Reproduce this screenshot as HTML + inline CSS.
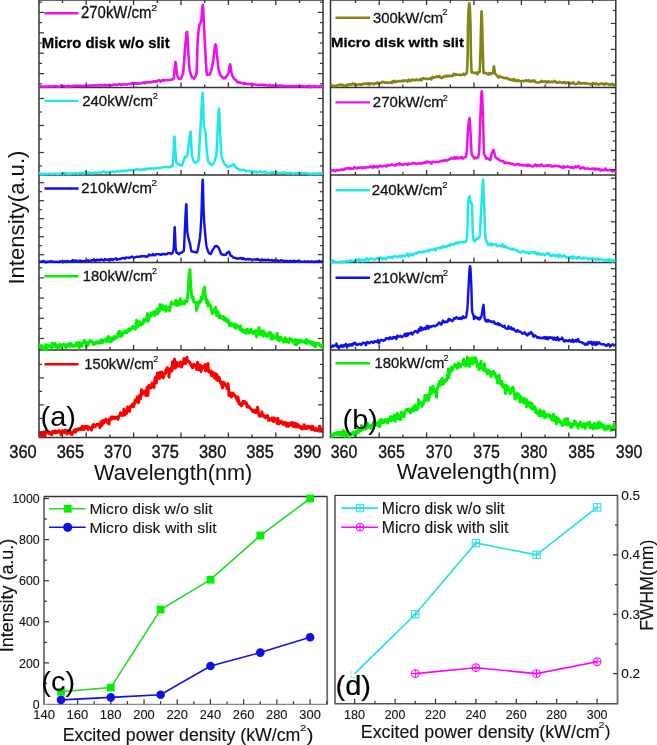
<!DOCTYPE html><html><head><meta charset="utf-8"><style>html,body{margin:0;padding:0;background:#fff;width:657px;height:745px;overflow:hidden;position:relative}</style></head><body><svg width="657" height="745" viewBox="0 0 657 745" style="position:absolute;left:0;top:0;will-change:transform;filter:blur(0.35px)" font-family='"Liberation Sans", sans-serif'>
<rect width="657" height="745" fill="#fff"/>
<defs>
<clipPath id="ca0"><rect x="39.0" y="0.0" width="284.0" height="88.6"/></clipPath>
<clipPath id="cb0"><rect x="330.5" y="0.0" width="285.3" height="88.6"/></clipPath>
<clipPath id="ca1"><rect x="39.0" y="87.5" width="284.0" height="88.6"/></clipPath>
<clipPath id="cb1"><rect x="330.5" y="87.5" width="285.3" height="88.6"/></clipPath>
<clipPath id="ca2"><rect x="39.0" y="175.0" width="284.0" height="88.6"/></clipPath>
<clipPath id="cb2"><rect x="330.5" y="175.0" width="285.3" height="88.6"/></clipPath>
<clipPath id="ca3"><rect x="39.0" y="262.5" width="284.0" height="88.6"/></clipPath>
<clipPath id="cb3"><rect x="330.5" y="262.5" width="285.3" height="88.6"/></clipPath>
<clipPath id="ca4"><rect x="39.0" y="350.0" width="284.0" height="88.6"/></clipPath>
<clipPath id="cb4"><rect x="330.5" y="350.0" width="285.3" height="88.6"/></clipPath>
</defs>
<line x1="39.00" y1="0.00" x2="39.00" y2="437.50" stroke="#333" stroke-width="1.5"/>
<line x1="323.00" y1="0.00" x2="323.00" y2="437.50" stroke="#333" stroke-width="1.5"/>
<line x1="39.00" y1="0.00" x2="323.00" y2="0.00" stroke="#333" stroke-width="1.5"/>
<line x1="39.00" y1="87.50" x2="323.00" y2="87.50" stroke="#333" stroke-width="1.5"/>
<line x1="39.00" y1="175.00" x2="323.00" y2="175.00" stroke="#333" stroke-width="1.5"/>
<line x1="39.00" y1="262.50" x2="323.00" y2="262.50" stroke="#333" stroke-width="1.5"/>
<line x1="39.00" y1="350.00" x2="323.00" y2="350.00" stroke="#333" stroke-width="1.5"/>
<line x1="39.00" y1="437.50" x2="323.00" y2="437.50" stroke="#333" stroke-width="1.5"/>
<line x1="330.50" y1="0.00" x2="330.50" y2="437.50" stroke="#333" stroke-width="1.5"/>
<line x1="615.80" y1="0.00" x2="615.80" y2="437.50" stroke="#333" stroke-width="1.5"/>
<line x1="330.50" y1="0.00" x2="615.80" y2="0.00" stroke="#333" stroke-width="1.5"/>
<line x1="330.50" y1="87.50" x2="615.80" y2="87.50" stroke="#333" stroke-width="1.5"/>
<line x1="330.50" y1="175.00" x2="615.80" y2="175.00" stroke="#333" stroke-width="1.5"/>
<line x1="330.50" y1="262.50" x2="615.80" y2="262.50" stroke="#333" stroke-width="1.5"/>
<line x1="330.50" y1="350.00" x2="615.80" y2="350.00" stroke="#333" stroke-width="1.5"/>
<line x1="330.50" y1="437.50" x2="615.80" y2="437.50" stroke="#333" stroke-width="1.5"/>
<polyline points="39.0,86.7 39.5,86.4 40.0,86.1 40.5,86.5 41.0,86.9 41.5,86.8 42.0,86.7 42.5,86.6 43.0,86.4 43.5,86.6 44.0,86.8 44.5,86.7 45.0,86.7 45.5,86.7 46.0,86.7 46.5,86.6 47.0,86.6 47.5,86.6 48.0,86.7 48.5,86.5 49.0,86.3 49.5,86.4 50.0,86.5 50.5,86.4 51.0,86.3 51.5,86.5 52.0,86.7 52.5,86.6 53.0,86.5 53.5,86.4 54.0,86.4 54.5,86.3 55.0,86.2 55.5,86.3 56.0,86.3 56.5,86.4 57.0,86.4 57.5,86.4 58.0,86.3 58.5,86.6 59.0,86.8 59.5,86.8 60.0,86.7 60.5,86.1 61.0,85.4 61.5,85.5 62.0,85.7 62.5,86.0 63.0,86.3 63.5,86.2 64.0,86.2 64.5,86.3 65.0,86.4 65.5,86.4 66.0,86.4 66.5,86.7 67.0,87.0 67.5,86.4 68.0,85.8 68.5,86.0 69.0,86.1 69.5,86.5 70.0,86.9 70.5,86.7 71.0,86.4 71.5,86.4 72.0,86.4 72.5,86.2 73.0,86.0 73.5,85.8 74.0,85.5 74.5,85.9 75.0,86.2 75.5,86.1 76.0,86.1 76.5,85.9 77.0,85.6 77.5,85.7 78.0,85.8 78.5,85.9 79.0,86.0 79.5,85.8 80.0,85.7 80.5,85.8 81.0,85.9 81.5,86.0 82.0,86.0 82.5,86.0 83.0,85.9 83.5,85.8 84.0,85.7 84.5,85.9 85.0,86.1 85.5,86.1 86.0,86.2 86.5,86.1 87.0,85.9 87.5,85.7 88.0,85.5 88.5,85.8 89.0,86.0 89.5,85.8 90.0,85.6 90.5,85.8 91.0,86.0 91.5,85.7 92.0,85.3 92.5,85.7 93.0,86.0 93.5,85.8 94.0,85.6 94.5,85.4 95.0,85.2 95.5,85.3 96.0,85.5 96.5,85.5 97.0,85.6 97.5,85.6 98.0,85.6 98.5,85.4 99.0,85.1 99.5,85.1 100.0,85.1 100.5,85.3 101.0,85.5 101.5,85.3 102.0,85.2 102.5,85.3 103.0,85.4 103.5,85.5 104.0,85.6 104.5,85.1 105.0,84.7 105.5,85.0 106.0,85.3 106.5,85.5 107.0,85.6 107.5,85.3 108.0,85.0 108.5,84.9 109.0,84.8 109.5,85.1 110.0,85.3 110.5,85.2 111.0,85.1 111.5,85.2 112.0,85.3 112.5,85.0 113.0,84.8 113.5,84.6 114.0,84.4 114.5,84.6 115.0,84.8 115.5,84.7 116.0,84.6 116.5,84.8 117.0,85.0 117.5,84.9 118.0,84.8 118.5,84.4 119.0,84.1 119.5,84.1 120.0,84.2 120.5,84.5 121.0,84.9 121.5,84.8 122.0,84.7 122.5,84.5 123.0,84.2 123.5,84.3 124.0,84.4 124.5,84.4 125.0,84.5 125.5,84.5 126.0,84.4 126.5,84.5 127.0,84.5 127.5,84.4 128.0,84.2 128.5,84.1 129.0,84.0 129.5,84.0 130.0,83.9 130.5,84.1 131.0,84.3 131.5,83.7 132.0,83.1 132.5,83.4 133.0,83.7 133.5,83.7 134.0,83.7 134.5,83.4 135.0,83.1 135.5,83.4 136.0,83.7 136.5,83.4 137.0,83.2 137.5,83.4 138.0,83.7 138.5,83.5 139.0,83.2 139.5,83.3 140.0,83.4 140.5,83.5 141.0,83.5 141.5,83.3 142.0,83.1 142.5,82.9 143.0,82.6 143.5,82.4 144.0,82.3 144.5,82.8 145.0,83.3 145.5,82.9 146.0,82.5 146.5,82.4 147.0,82.2 147.5,82.3 148.0,82.4 148.5,82.3 149.0,82.2 149.5,82.3 150.0,82.4 150.5,82.2 151.0,82.0 151.5,81.9 152.0,81.8 152.5,81.7 153.0,81.5 153.5,81.6 154.0,81.7 154.5,81.4 155.0,81.1 155.5,81.3 156.0,81.6 156.5,81.6 157.0,81.7 157.5,81.1 158.0,80.5 158.5,80.3 159.0,80.1 159.5,80.6 160.0,81.0 160.5,81.3 161.0,81.6 161.5,80.9 162.0,80.3 162.5,80.2 163.0,80.1 163.5,80.3 164.0,80.6 164.5,80.3 165.0,80.0 165.5,80.0 166.0,80.0 166.5,80.0 167.0,80.0 167.5,80.2 168.0,80.3 168.5,80.1 169.0,79.9 169.5,80.0 170.0,80.1 170.5,80.0 171.0,79.8 171.5,79.6 172.0,79.4 172.2,79.4 172.5,79.4 173.0,79.2 173.5,78.5 173.7,78.2 174.0,76.7 174.5,71.2 175.0,65.1 175.5,62.0 176.0,64.5 176.5,69.9 177.0,74.1 177.1,74.6 177.5,75.9 178.0,77.4 178.5,78.1 179.0,78.5 179.5,78.9 180.0,79.1 180.1,79.1 180.5,79.0 181.0,78.6 181.5,77.5 182.0,76.1 182.5,74.6 183.0,72.8 183.1,72.4 183.5,69.5 184.0,63.2 184.5,55.8 184.9,50.8 185.0,49.7 185.5,43.6 186.0,37.5 186.5,33.3 187.0,31.9 187.5,37.1 188.0,47.1 188.2,50.5 188.5,55.0 189.0,62.8 189.5,69.0 189.8,71.0 190.0,71.7 190.5,73.3 191.0,74.7 191.5,76.2 192.0,77.4 192.5,77.7 193.0,77.7 193.5,78.2 194.0,78.6 194.5,78.0 195.0,76.9 195.5,76.2 196.0,75.1 196.5,73.1 196.6,72.7 197.0,62.9 197.5,44.4 197.6,42.4 198.0,36.7 198.5,31.3 199.0,27.3 199.4,25.3 199.5,24.9 200.0,23.7 200.5,22.7 201.0,21.5 201.2,20.7 201.5,18.4 202.0,11.7 202.5,6.0 202.8,4.8 203.0,6.1 203.5,15.6 203.9,24.3 204.0,26.1 204.5,35.8 205.0,45.3 205.5,54.2 206.0,63.1 206.5,71.3 207.0,74.9 207.5,74.9 208.0,74.8 208.5,74.7 209.0,74.5 209.5,74.4 209.7,74.3 210.0,74.1 210.5,72.8 211.0,70.9 211.5,69.4 212.0,67.5 212.5,64.7 213.0,61.8 213.3,60.1 213.5,58.9 214.0,54.4 214.5,49.8 215.0,46.0 215.5,44.4 216.0,46.4 216.5,50.5 217.0,55.2 217.2,56.9 217.5,59.7 218.0,64.9 218.5,69.0 218.7,69.8 219.0,70.6 219.5,72.6 220.0,74.5 220.5,75.3 221.0,75.9 221.5,76.4 222.0,76.7 222.5,77.3 223.0,77.8 223.5,78.2 224.0,78.5 224.2,78.4 224.5,78.2 225.0,77.7 225.5,77.5 226.0,77.2 226.5,76.4 227.0,75.4 227.5,74.7 228.0,73.9 228.4,72.9 228.5,72.6 229.0,70.0 229.5,66.3 230.0,64.3 230.5,66.0 231.0,69.5 231.5,72.5 232.0,74.3 232.5,75.8 233.0,77.2 233.5,77.8 234.0,78.4 234.5,79.1 235.0,79.7 235.5,79.9 236.0,80.0 236.5,80.9 237.0,81.8 237.5,82.2 238.0,82.5 238.5,82.3 239.0,82.0 239.5,82.4 240.0,82.8 240.5,82.8 241.0,82.7 241.5,82.9 242.0,83.1 242.5,83.0 243.0,82.9 243.5,83.5 244.0,84.1 244.5,83.7 245.0,83.3 245.5,83.5 246.0,83.7 246.5,83.9 247.0,84.1 247.5,83.9 248.0,83.8 248.5,83.9 249.0,84.1 249.5,84.1 250.0,84.1 250.5,84.2 251.0,84.3 251.5,84.2 252.0,84.0 252.5,84.2 253.0,84.4 253.5,84.4 254.0,84.5 254.5,84.5 255.0,84.6 255.5,84.7 256.0,84.8 256.5,84.7 257.0,84.7 257.5,84.9 258.0,85.1 258.5,85.0 259.0,84.8 259.5,84.9 260.0,85.0 260.5,84.9 261.0,84.8 261.5,84.9 262.0,84.9 262.5,84.8 263.0,84.7 263.5,85.1 264.0,85.4 264.5,85.2 265.0,84.9 265.5,85.0 266.0,85.1 266.5,85.3 267.0,85.5 267.5,85.6 268.0,85.6 268.5,85.5 269.0,85.4 269.5,85.1 270.0,84.8 270.5,85.3 271.0,85.7 271.5,85.7 272.0,85.7 272.5,85.5 273.0,85.2 273.5,85.6 274.0,86.0 274.5,85.8 275.0,85.5 275.5,85.5 276.0,85.4 276.5,85.6 277.0,85.9 277.5,85.8 278.0,85.8 278.5,85.9 279.0,86.0 279.5,85.7 280.0,85.4 280.5,86.0 281.0,86.6 281.5,86.2 282.0,85.8 282.5,85.6 283.0,85.5 283.5,85.9 284.0,86.3 284.5,86.1 285.0,86.0 285.5,86.1 286.0,86.2 286.5,86.1 287.0,86.0 287.5,86.1 288.0,86.1 288.5,86.2 289.0,86.3 289.5,86.1 290.0,85.9 290.5,86.2 291.0,86.5 291.5,86.3 292.0,86.1 292.5,86.0 293.0,86.0 293.5,86.1 294.0,86.3 294.5,86.4 295.0,86.4 295.5,86.3 296.0,86.2 296.5,86.1 297.0,86.0 297.5,86.3 298.0,86.6 298.5,86.2 299.0,85.7 299.5,85.9 300.0,86.0 300.5,86.2 301.0,86.4 301.5,86.2 302.0,85.9 302.5,86.2 303.0,86.4 303.5,86.4 304.0,86.4 304.5,86.6 305.0,86.8 305.5,86.5 306.0,86.2 306.5,86.2 307.0,86.3 307.5,86.4 308.0,86.6 308.5,86.1 309.0,85.6 309.5,86.6 310.0,87.6 310.5,86.9 311.0,86.3 311.5,86.3 312.0,86.3 312.5,86.6 313.0,86.9 313.5,86.7 314.0,86.5 314.5,86.2 315.0,85.9 315.5,86.4 316.0,86.8 316.5,86.8 317.0,86.9 317.5,86.7 318.0,86.4 318.5,86.5 319.0,86.5 319.5,86.6 320.0,86.8 320.5,86.5 321.0,86.3 321.5,86.5 322.0,86.8 322.5,86.7 323.0,86.7" fill="none" stroke="#ec10ec" stroke-width="2.6" stroke-linejoin="round" clip-path="url(#ca0)"/>
<polyline points="39.0,173.9 39.5,173.5 40.0,173.1 40.5,173.9 41.0,174.6 41.5,174.5 42.0,174.4 42.5,174.1 43.0,173.9 43.5,174.1 44.0,174.3 44.5,174.2 45.0,174.1 45.5,173.9 46.0,173.8 46.5,174.0 47.0,174.3 47.5,174.1 48.0,173.8 48.5,173.8 49.0,173.8 49.5,173.7 50.0,173.7 50.5,173.9 51.0,174.1 51.5,174.0 52.0,173.9 52.5,174.0 53.0,174.1 53.5,173.9 54.0,173.7 54.5,173.8 55.0,173.9 55.5,173.7 56.0,173.5 56.5,173.8 57.0,174.1 57.5,174.0 58.0,173.9 58.5,173.9 59.0,173.9 59.5,173.9 60.0,173.9 60.5,173.7 61.0,173.4 61.5,173.7 62.0,174.0 62.5,174.2 63.0,174.4 63.5,173.8 64.0,173.1 64.5,173.1 65.0,173.1 65.5,173.1 66.0,173.1 66.5,173.5 67.0,173.9 67.5,173.8 68.0,173.6 68.5,173.8 69.0,173.9 69.5,173.9 70.0,173.8 70.5,173.7 71.0,173.6 71.5,173.6 72.0,173.6 72.5,173.5 73.0,173.4 73.5,173.6 74.0,173.7 74.5,173.4 75.0,173.0 75.5,173.1 76.0,173.2 76.5,173.3 77.0,173.4 77.5,173.7 78.0,173.9 78.5,173.5 79.0,173.0 79.5,172.9 80.0,172.8 80.5,172.9 81.0,173.0 81.5,173.2 82.0,173.5 82.5,173.3 83.0,173.0 83.5,173.3 84.0,173.6 84.5,173.0 85.0,172.4 85.5,172.9 86.0,173.4 86.5,173.4 87.0,173.3 87.5,172.9 88.0,172.5 88.5,172.7 89.0,173.0 89.5,173.1 90.0,173.3 90.5,173.1 91.0,172.9 91.5,173.0 92.0,173.2 92.5,173.4 93.0,173.6 93.5,173.2 94.0,172.8 94.5,172.7 95.0,172.6 95.5,172.5 96.0,172.4 96.5,172.6 97.0,172.8 97.5,172.7 98.0,172.5 98.5,172.5 99.0,172.5 99.5,172.5 100.0,172.5 100.5,172.6 101.0,172.7 101.5,172.4 102.0,172.0 102.5,171.9 103.0,171.8 103.5,171.7 104.0,171.5 104.5,172.1 105.0,172.7 105.5,172.5 106.0,172.2 106.5,172.5 107.0,172.7 107.5,172.4 108.0,172.1 108.5,171.9 109.0,171.8 109.5,172.0 110.0,172.1 110.5,172.0 111.0,171.9 111.5,171.6 112.0,171.4 112.5,171.4 113.0,171.5 113.5,171.9 114.0,172.3 114.5,172.0 115.0,171.7 115.5,171.7 116.0,171.7 116.5,171.5 117.0,171.4 117.5,171.2 118.0,171.1 118.5,171.4 119.0,171.6 119.5,171.4 120.0,171.2 120.5,171.0 121.0,170.9 121.5,170.9 122.0,171.0 122.5,170.8 123.0,170.6 123.5,170.8 124.0,170.9 124.5,171.1 125.0,171.2 125.5,170.8 126.0,170.4 126.5,170.8 127.0,171.1 127.5,170.7 128.0,170.3 128.5,170.4 129.0,170.5 129.5,170.3 130.0,170.1 130.5,170.1 131.0,170.2 131.5,170.2 132.0,170.2 132.5,170.1 133.0,169.9 133.5,169.9 134.0,169.8 134.5,169.7 135.0,169.7 135.5,169.6 136.0,169.5 136.5,169.4 137.0,169.2 137.5,169.4 138.0,169.6 138.5,169.6 139.0,169.7 139.5,169.8 140.0,169.8 140.5,169.7 141.0,169.6 141.5,169.9 142.0,170.2 142.5,169.8 143.0,169.4 143.5,169.2 144.0,169.0 144.5,169.4 145.0,169.8 145.5,169.2 146.0,168.7 146.5,169.0 147.0,169.3 147.5,168.9 148.0,168.5 148.5,168.7 149.0,168.9 149.5,168.5 150.0,168.0 150.5,168.5 151.0,169.0 151.5,168.7 152.0,168.5 152.5,168.3 153.0,168.1 153.5,168.6 154.0,169.0 154.5,168.8 155.0,168.6 155.5,168.4 156.0,168.2 156.5,168.1 157.0,167.9 157.5,168.0 158.0,168.0 158.5,168.0 159.0,167.9 159.5,168.0 160.0,168.1 160.5,168.1 161.0,168.0 161.5,167.7 162.0,167.4 162.5,167.4 163.0,167.3 163.5,167.3 164.0,167.2 164.5,167.0 165.0,166.8 165.5,166.9 166.0,167.0 166.5,167.0 167.0,167.1 167.5,167.2 168.0,167.3 168.5,167.3 169.0,167.4 169.5,166.9 170.0,166.5 170.5,166.6 171.0,166.7 171.5,166.4 172.0,166.0 172.2,166.1 172.5,165.5 173.0,162.1 173.2,160.1 173.5,154.6 174.0,141.6 174.4,136.6 174.5,136.8 175.0,144.0 175.5,153.2 175.6,154.5 176.0,159.1 176.5,162.8 177.0,163.3 177.5,163.7 178.0,164.1 178.5,164.1 179.0,164.2 179.5,164.5 180.0,164.9 180.5,164.8 181.0,164.7 181.5,165.3 181.9,165.7 182.0,165.7 182.5,164.6 183.0,162.7 183.5,161.2 184.0,159.7 184.5,157.8 184.9,157.0 185.0,156.8 185.5,156.9 186.0,157.1 186.5,156.5 186.7,156.2 187.0,155.4 187.5,153.5 188.0,150.5 188.5,146.4 189.0,142.3 189.2,141.0 189.5,138.7 190.0,134.4 190.5,131.7 190.6,131.6 191.0,137.2 191.5,150.2 191.8,154.5 192.0,155.4 192.5,157.5 193.0,159.3 193.5,160.7 194.0,161.8 194.5,162.4 195.0,162.7 195.2,162.7 195.5,162.6 196.0,162.4 196.5,162.0 197.0,161.6 197.5,161.4 198.0,161.2 198.2,161.1 198.5,159.9 199.0,154.3 199.5,145.8 200.0,137.0 200.5,128.0 201.0,118.7 201.5,108.9 202.0,99.4 202.5,93.5 202.7,92.9 203.0,97.6 203.5,116.0 203.9,125.9 204.0,126.6 204.5,128.6 205.0,129.8 205.5,131.9 206.0,138.5 206.5,147.2 206.7,149.6 207.0,152.3 207.5,156.8 208.0,160.3 208.5,162.0 209.0,162.8 209.5,163.2 210.0,163.5 210.5,164.3 211.0,165.0 211.5,165.1 212.0,165.1 212.1,165.0 212.5,164.6 213.0,163.7 213.5,163.4 214.0,162.8 214.5,161.4 215.0,159.6 215.5,158.1 216.0,156.4 216.3,155.0 216.5,153.2 217.0,143.7 217.5,131.2 217.9,122.9 218.0,121.2 218.5,112.7 219.0,108.4 219.5,116.2 220.0,130.9 220.3,137.7 220.5,141.0 221.0,149.0 221.5,155.4 221.8,157.4 222.0,158.2 222.5,159.6 223.0,160.9 223.5,161.9 224.0,162.9 224.5,164.0 225.0,164.9 225.5,165.1 226.0,165.2 226.5,166.0 227.0,166.7 227.5,166.9 227.8,167.0 228.0,167.0 228.5,166.8 229.0,166.5 229.5,166.2 230.0,165.9 230.5,165.9 231.0,165.9 231.5,165.9 232.0,165.8 232.5,165.0 233.0,164.4 233.2,164.3 233.5,164.2 234.0,164.4 234.5,165.5 235.0,166.7 235.5,166.9 236.0,167.0 236.3,167.5 236.5,167.8 237.0,168.5 237.5,168.7 238.0,168.7 238.5,169.2 239.0,169.7 239.5,169.6 240.0,169.4 240.5,169.9 241.0,170.4 241.5,170.3 242.0,170.2 242.5,169.9 243.0,169.7 243.5,169.7 244.0,169.8 244.5,170.1 245.0,170.5 245.5,170.9 246.0,171.2 246.5,171.1 247.0,170.9 247.5,171.0 248.0,171.0 248.5,171.0 249.0,171.0 249.5,171.3 250.0,171.5 250.5,171.5 251.0,171.5 251.5,171.5 252.0,171.5 252.5,171.4 253.0,171.2 253.5,171.6 254.0,172.0 254.5,172.1 255.0,172.1 255.5,171.7 256.0,171.3 256.5,172.0 257.0,172.6 257.5,172.4 258.0,172.1 258.5,171.9 259.0,171.8 259.5,171.6 260.0,171.3 260.5,171.8 261.0,172.3 261.5,172.3 262.0,172.3 262.5,172.1 263.0,172.0 263.5,171.8 264.0,171.6 264.5,172.1 265.0,172.7 265.5,172.4 266.0,172.1 266.5,172.2 267.0,172.2 267.5,172.8 268.0,173.4 268.5,173.3 269.0,173.2 269.5,173.0 270.0,172.9 270.5,172.6 271.0,172.4 271.5,172.6 272.0,172.8 272.5,172.4 273.0,171.9 273.5,172.3 274.0,172.7 274.5,172.6 275.0,172.5 275.5,172.4 276.0,172.3 276.5,172.3 277.0,172.3 277.5,172.6 278.0,173.0 278.5,173.0 279.0,172.9 279.5,172.9 280.0,173.0 280.5,173.1 281.0,173.2 281.5,173.0 282.0,172.7 282.5,172.6 283.0,172.6 283.5,172.5 284.0,172.4 284.5,172.7 285.0,172.9 285.5,173.2 286.0,173.4 286.5,173.2 287.0,173.1 287.5,173.2 288.0,173.4 288.5,173.1 289.0,172.8 289.5,172.9 290.0,173.0 290.5,173.0 291.0,173.0 291.5,172.9 292.0,172.8 292.5,173.4 293.0,173.9 293.5,173.8 294.0,173.6 294.5,173.3 295.0,173.1 295.5,173.1 296.0,173.1 296.5,173.2 297.0,173.4 297.5,173.1 298.0,172.9 298.5,173.2 299.0,173.6 299.5,173.3 300.0,173.0 300.5,173.2 301.0,173.3 301.5,173.2 302.0,173.1 302.5,173.2 303.0,173.3 303.5,173.2 304.0,173.1 304.5,173.0 305.0,173.0 305.5,173.1 306.0,173.2 306.5,173.3 307.0,173.3 307.5,173.4 308.0,173.5 308.5,173.6 309.0,173.6 309.5,173.9 310.0,174.2 310.5,174.1 311.0,173.9 311.5,173.8 312.0,173.6 312.5,173.8 313.0,173.9 313.5,173.7 314.0,173.5 314.5,173.8 315.0,174.2 315.5,174.1 316.0,173.9 316.5,173.6 317.0,173.3 317.5,173.6 318.0,174.0 318.5,174.0 319.0,174.1 319.5,173.4 320.0,172.8 320.5,173.2 321.0,173.5 321.5,173.6 322.0,173.6 322.5,173.4 323.0,173.1" fill="none" stroke="#1ee8e8" stroke-width="2.5" stroke-linejoin="round" clip-path="url(#ca1)"/>
<polyline points="39.0,262.0 39.5,261.8 40.0,261.5 40.5,261.6 41.0,261.6 41.5,261.6 42.0,261.7 42.5,261.3 43.0,260.9 43.5,261.3 44.0,261.7 44.5,261.5 45.0,261.4 45.5,262.3 46.0,263.3 46.5,262.6 47.0,261.9 47.5,261.7 48.0,261.6 48.5,261.6 49.0,261.6 49.5,261.5 50.0,261.4 50.5,261.3 51.0,261.2 51.5,261.4 52.0,261.5 52.5,261.7 53.0,261.9 53.5,261.7 54.0,261.6 54.5,261.8 55.0,262.1 55.5,261.8 56.0,261.6 56.5,261.6 57.0,261.6 57.5,262.0 58.0,262.3 58.5,262.1 59.0,261.8 59.5,261.6 60.0,261.3 60.5,261.4 61.0,261.5 61.5,261.6 62.0,261.8 62.5,262.1 63.0,262.4 63.5,261.9 64.0,261.3 64.5,261.3 65.0,261.3 65.5,261.6 66.0,261.9 66.5,261.4 67.0,261.0 67.5,261.1 68.0,261.2 68.5,261.5 69.0,261.7 69.5,261.7 70.0,261.6 70.5,261.4 71.0,261.3 71.5,261.4 72.0,261.6 72.5,260.7 73.0,259.9 73.5,260.8 74.0,261.6 74.5,261.2 75.0,260.7 75.5,260.5 76.0,260.4 76.5,260.8 77.0,261.2 77.5,261.3 78.0,261.4 78.5,261.1 79.0,260.8 79.5,260.7 80.0,260.5 80.5,260.7 81.0,261.0 81.5,260.9 82.0,260.9 82.5,261.2 83.0,261.5 83.5,261.3 84.0,261.2 84.5,261.0 85.0,260.9 85.5,261.1 86.0,261.3 86.5,261.0 87.0,260.6 87.5,260.5 88.0,260.3 88.5,260.6 89.0,260.9 89.5,260.9 90.0,260.9 90.5,260.7 91.0,260.5 91.5,260.3 92.0,260.2 92.5,260.4 93.0,260.6 93.5,260.0 94.0,259.3 94.5,260.0 95.0,260.7 95.5,260.7 96.0,260.6 96.5,260.1 97.0,259.6 97.5,260.0 98.0,260.3 98.5,260.1 99.0,259.8 99.5,260.2 100.0,260.5 100.5,259.9 101.0,259.2 101.5,259.5 102.0,259.7 102.5,260.0 103.0,260.4 103.5,260.4 104.0,260.5 104.5,259.7 105.0,259.0 105.5,259.3 106.0,259.6 106.5,259.8 107.0,259.9 107.5,259.7 108.0,259.5 108.5,259.9 109.0,260.4 109.5,259.7 110.0,259.0 110.5,259.3 111.0,259.7 111.5,259.3 112.0,258.9 112.5,259.4 113.0,260.0 113.5,259.6 114.0,259.2 114.5,259.1 115.0,259.0 115.5,258.6 116.0,258.3 116.5,259.0 117.0,259.7 117.5,259.4 118.0,259.2 118.5,259.1 119.0,259.1 119.5,259.1 120.0,259.2 120.5,258.9 121.0,258.7 121.5,258.4 122.0,258.2 122.5,258.1 123.0,258.0 123.5,257.9 124.0,257.9 124.5,258.3 125.0,258.7 125.5,258.0 126.0,257.4 126.5,257.5 127.0,257.6 127.5,257.6 128.0,257.6 128.5,257.7 129.0,257.8 129.5,257.8 130.0,257.8 130.5,257.4 131.0,256.9 131.5,256.7 132.0,256.6 132.5,256.9 133.0,257.2 133.5,257.5 134.0,257.7 134.5,257.5 135.0,257.4 135.5,257.2 136.0,257.0 136.5,256.8 137.0,256.7 137.5,256.8 138.0,256.8 138.5,256.7 139.0,256.5 139.5,256.7 140.0,256.9 140.5,256.5 141.0,256.0 141.5,256.2 142.0,256.4 142.5,256.2 143.0,256.1 143.5,256.2 144.0,256.3 144.5,256.2 145.0,256.1 145.5,256.5 146.0,257.0 146.5,256.7 147.0,256.4 147.5,256.3 148.0,256.3 148.5,255.4 149.0,254.6 149.5,254.9 150.0,255.2 150.5,255.1 151.0,255.0 151.5,255.2 152.0,255.4 152.5,254.7 153.0,254.0 153.5,254.7 154.0,255.4 154.5,255.3 155.0,255.3 155.5,254.7 156.0,254.1 156.5,254.1 157.0,254.1 157.5,254.1 158.0,254.1 158.5,254.2 159.0,254.3 159.5,254.4 160.0,254.5 160.5,254.8 161.0,255.0 161.5,254.5 162.0,253.9 162.5,254.1 163.0,254.2 163.5,254.1 164.0,253.9 164.5,254.2 165.0,254.5 165.5,254.2 166.0,254.0 166.5,254.1 167.0,254.2 167.5,253.6 168.0,253.0 168.5,253.2 169.0,253.4 169.5,253.2 170.0,253.0 170.5,253.5 171.0,254.0 171.5,253.7 172.0,253.4 172.2,253.3 172.5,253.0 173.0,251.7 173.5,249.7 173.7,248.7 174.0,243.2 174.5,229.2 174.7,227.2 175.0,231.6 175.5,244.9 175.6,246.4 176.0,250.3 176.5,252.7 177.0,252.7 177.5,253.0 178.0,253.3 178.5,253.8 179.0,254.2 179.5,253.6 180.0,253.0 180.5,252.9 180.7,252.9 181.0,252.8 181.5,252.6 182.0,252.3 182.5,252.0 183.0,251.5 183.5,251.4 183.7,251.3 184.0,248.7 184.5,237.7 184.9,228.7 185.0,226.8 185.5,215.4 186.0,206.1 186.3,204.2 186.5,206.7 187.0,223.8 187.3,230.9 187.5,232.7 188.0,236.0 188.5,238.4 189.0,240.3 189.5,241.8 189.8,242.9 190.0,243.7 190.5,246.7 191.0,249.5 191.5,251.1 191.6,251.2 192.0,251.6 192.5,251.6 193.0,251.6 193.5,251.8 194.0,252.0 194.5,252.0 195.0,252.0 195.5,252.2 196.0,252.3 196.4,252.6 196.5,252.6 197.0,252.3 197.5,250.8 198.0,248.7 198.5,246.3 199.0,243.5 199.5,240.5 200.0,237.2 200.5,231.7 201.0,223.8 201.2,220.3 201.5,212.8 202.0,195.5 202.5,181.4 202.7,179.6 203.0,185.4 203.5,207.1 203.6,210.1 204.0,218.5 204.5,225.9 204.9,230.6 205.0,231.7 205.5,237.4 206.0,242.3 206.5,245.9 206.7,246.8 207.0,247.9 207.5,249.5 208.0,251.0 208.5,252.2 209.0,253.1 209.5,253.5 210.0,253.7 210.3,254.0 210.5,254.1 211.0,253.9 211.5,252.7 212.0,251.3 212.5,250.2 213.0,249.3 213.3,249.0 213.5,248.8 214.0,248.2 214.5,247.1 215.0,246.1 215.5,246.1 216.0,246.3 216.3,246.1 216.5,246.0 217.0,246.0 217.5,246.6 218.0,247.4 218.1,247.4 218.5,247.6 219.0,248.3 219.5,249.7 220.0,251.1 220.5,252.6 221.0,253.6 221.2,253.8 221.5,254.1 222.0,254.5 222.5,254.5 223.0,254.4 223.5,254.8 224.0,255.1 224.2,255.0 224.5,254.9 225.0,254.7 225.5,254.7 226.0,254.7 226.5,253.7 227.0,252.7 227.5,252.7 228.0,252.7 228.5,252.1 229.0,251.6 229.5,252.3 230.0,253.8 230.5,255.3 230.8,255.8 231.0,255.9 231.5,256.0 232.0,256.2 232.5,256.7 233.0,257.2 233.5,257.6 234.0,257.9 234.5,257.9 235.0,257.8 235.5,258.0 236.0,258.2 236.5,258.5 237.0,258.8 237.5,258.6 238.0,258.4 238.5,258.4 239.0,258.5 239.5,258.4 240.0,258.4 240.5,258.1 241.0,257.9 241.5,258.5 242.0,259.1 242.5,258.6 243.0,258.1 243.5,258.6 244.0,259.2 244.5,259.1 245.0,259.0 245.5,259.3 246.0,259.6 246.5,259.4 247.0,259.2 247.5,259.1 248.0,258.9 248.5,259.2 249.0,259.5 249.5,259.4 250.0,259.2 250.5,259.3 251.0,259.4 251.5,259.5 252.0,259.6 252.5,259.6 253.0,259.6 253.5,259.6 254.0,259.6 254.5,259.5 255.0,259.4 255.5,259.5 256.0,259.7 256.5,259.3 257.0,258.9 257.5,259.4 258.0,259.8 258.5,259.6 259.0,259.4 259.5,260.0 260.0,260.5 260.5,260.6 261.0,260.6 261.5,259.9 262.0,259.2 262.5,259.7 263.0,260.2 263.5,260.2 264.0,260.1 264.5,259.9 265.0,259.8 265.5,260.1 266.0,260.5 266.5,260.3 267.0,260.1 267.5,259.8 268.0,259.5 268.5,259.9 269.0,260.3 269.5,260.3 270.0,260.4 270.5,260.4 271.0,260.5 271.5,260.2 272.0,259.9 272.5,260.4 273.0,260.8 273.5,260.8 274.0,260.9 274.5,260.5 275.0,260.1 275.5,260.2 276.0,260.3 276.5,260.5 277.0,260.6 277.5,260.5 278.0,260.4 278.5,261.0 279.0,261.5 279.5,261.2 280.0,260.8 280.5,260.6 281.0,260.3 281.5,260.4 282.0,260.4 282.5,260.6 283.0,260.8 283.5,261.3 284.0,261.9 284.5,261.3 285.0,260.8 285.5,260.9 286.0,261.0 286.5,261.1 287.0,261.2 287.5,261.0 288.0,260.9 288.5,261.5 289.0,262.0 289.5,261.4 290.0,260.8 290.5,261.1 291.0,261.4 291.5,261.2 292.0,261.1 292.5,261.2 293.0,261.3 293.5,261.0 294.0,260.6 294.5,261.2 295.0,261.9 295.5,261.5 296.0,261.1 296.5,261.1 297.0,261.2 297.5,261.0 298.0,260.8 298.5,260.8 299.0,260.9 299.5,261.2 300.0,261.5 300.5,261.6 301.0,261.7 301.5,261.6 302.0,261.6 302.5,261.7 303.0,261.8 303.5,261.7 304.0,261.6 304.5,261.5 305.0,261.3 305.5,261.5 306.0,261.7 306.5,261.7 307.0,261.6 307.5,261.5 308.0,261.3 308.5,261.5 309.0,261.7 309.5,261.9 310.0,262.0 310.5,261.8 311.0,261.5 311.5,261.4 312.0,261.3 312.5,261.5 313.0,261.8 313.5,262.1 314.0,262.3 314.5,261.9 315.0,261.4 315.5,261.4 316.0,261.5 316.5,261.5 317.0,261.5 317.5,261.8 318.0,262.1 318.5,261.4 319.0,260.7 319.5,261.2 320.0,261.7 320.5,261.9 321.0,262.1 321.5,261.7 322.0,261.2 322.5,261.7 323.0,262.3" fill="none" stroke="#1010ee" stroke-width="2.4" stroke-linejoin="round" clip-path="url(#ca2)"/>
<polyline points="39.0,347.3 39.5,345.0 40.0,347.4 40.5,346.5 41.0,347.2 41.5,346.0 42.0,345.5 42.5,347.7 43.0,347.7 43.5,349.7 44.0,348.5 44.5,347.9 45.0,346.8 45.5,345.5 46.0,351.1 46.5,344.8 47.0,347.2 47.5,347.6 48.0,346.0 48.5,345.4 49.0,345.7 49.5,345.6 50.0,346.8 50.5,347.0 51.0,347.5 51.5,348.3 52.0,343.3 52.5,346.0 53.0,345.5 53.5,346.4 54.0,346.1 54.5,343.1 55.0,345.8 55.5,346.6 56.0,344.6 56.5,345.8 57.0,347.5 57.5,346.8 58.0,348.0 58.5,347.9 59.0,345.5 59.5,344.4 60.0,344.9 60.5,345.9 61.0,347.3 61.5,347.4 62.0,345.5 62.5,344.6 63.0,344.5 63.5,344.3 64.0,344.6 64.5,345.1 65.0,345.3 65.5,347.3 66.0,347.7 66.5,344.6 67.0,344.8 67.5,345.9 68.0,344.4 68.5,344.0 69.0,344.7 69.5,345.4 70.0,346.5 70.5,343.2 71.0,345.9 71.5,345.9 72.0,344.5 72.5,345.3 73.0,346.3 73.5,346.0 74.0,346.4 74.5,345.8 75.0,344.8 75.5,344.6 76.0,345.1 76.5,343.0 77.0,345.3 77.5,344.7 78.0,342.6 78.5,342.9 79.0,348.0 79.5,344.6 80.0,342.6 80.5,344.7 81.0,346.1 81.5,343.8 82.0,345.9 82.5,342.9 83.0,343.0 83.5,342.0 84.0,340.5 84.5,340.5 85.0,341.9 85.5,343.2 86.0,344.5 86.5,346.5 87.0,345.9 87.5,342.2 88.0,345.3 88.5,342.7 89.0,342.8 89.5,341.7 90.0,340.4 90.5,340.6 91.0,341.6 91.5,340.9 92.0,342.2 92.5,342.2 93.0,342.6 93.5,344.7 94.0,342.8 94.5,342.8 95.0,343.9 95.5,343.8 96.0,342.8 96.5,341.9 97.0,341.7 97.5,341.6 98.0,343.0 98.5,343.3 99.0,342.7 99.5,342.2 100.0,342.7 100.5,340.5 101.0,341.2 101.5,339.9 102.0,339.7 102.5,342.7 103.0,340.5 103.5,340.5 104.0,340.9 104.5,340.4 105.0,339.5 105.5,339.5 106.0,341.6 106.5,339.7 107.0,337.9 107.5,338.4 108.0,338.1 108.5,336.3 109.0,341.5 109.5,338.4 110.0,337.9 110.5,340.1 111.0,342.0 111.5,341.1 112.0,337.6 112.5,338.3 113.0,338.9 113.5,339.7 114.0,338.9 114.5,336.5 115.0,336.8 115.5,338.4 116.0,337.4 116.5,337.1 117.0,337.3 117.5,336.3 118.0,333.3 118.5,333.6 119.0,331.1 119.5,332.1 120.0,335.3 120.5,336.4 121.0,332.2 121.5,335.8 122.0,336.1 122.5,334.6 123.0,333.3 123.5,333.2 124.0,333.1 124.5,331.2 125.0,331.4 125.5,331.7 126.0,332.1 126.5,332.8 127.0,332.8 127.5,329.9 128.0,331.2 128.5,330.3 129.0,328.8 129.5,329.5 130.0,330.2 130.5,329.2 131.0,328.6 131.5,328.6 132.0,328.2 132.5,326.7 133.0,326.2 133.5,326.7 134.0,328.1 134.5,327.5 135.0,327.5 135.5,329.4 136.0,326.1 136.5,320.1 137.0,322.2 137.5,325.9 138.0,326.7 138.5,323.8 139.0,322.7 139.5,321.6 140.0,324.3 140.5,325.2 141.0,324.3 141.5,323.4 142.0,322.7 142.5,324.2 143.0,323.4 143.5,320.4 144.0,319.3 144.5,321.7 145.0,320.2 145.5,319.4 146.0,320.3 146.5,319.8 147.0,316.5 147.5,313.4 148.0,321.4 148.5,320.2 149.0,317.9 149.5,316.4 150.0,316.2 150.5,316.2 151.0,312.9 151.5,315.6 152.0,314.9 152.5,314.0 153.0,313.0 153.5,311.8 154.0,311.8 154.5,314.9 155.0,315.5 155.5,314.3 156.0,312.6 156.5,311.0 157.0,309.0 157.5,311.8 158.0,313.6 158.5,310.2 159.0,308.4 159.5,311.2 160.0,304.4 160.5,307.8 161.0,309.4 161.5,307.7 162.0,305.3 162.5,305.5 163.0,308.7 163.5,309.9 164.0,307.8 164.5,308.7 165.0,309.0 165.5,306.4 166.0,311.3 166.5,307.8 167.0,307.1 167.5,307.5 168.0,307.5 168.5,307.4 169.0,310.3 169.5,310.8 170.0,308.0 170.5,305.6 171.0,303.7 171.5,302.0 172.0,302.7 172.5,304.1 173.0,304.0 173.5,303.8 174.0,303.7 174.5,303.9 175.0,304.7 175.5,300.8 176.0,300.4 176.5,303.2 177.0,305.5 177.5,304.4 178.0,301.4 178.5,305.1 179.0,302.5 179.5,301.3 180.0,300.4 180.5,298.8 181.0,304.3 181.5,302.4 182.0,303.7 182.5,304.0 183.0,302.9 183.5,301.8 184.0,301.8 184.5,303.8 185.0,301.9 185.5,300.6 186.0,300.6 186.5,301.0 186.8,301.7 187.0,301.7 187.5,297.4 188.0,292.6 188.3,288.9 188.5,284.4 189.0,274.9 189.5,271.4 189.6,270.2 190.0,269.6 190.5,281.4 191.0,288.4 191.5,293.9 192.0,298.1 192.5,297.9 192.6,297.8 193.0,297.1 193.5,300.7 194.0,302.0 194.5,302.2 195.0,302.4 195.5,303.0 196.0,302.4 196.5,310.5 197.0,308.0 197.4,306.6 197.5,307.0 198.0,306.0 198.5,302.1 199.0,301.6 199.5,302.6 200.0,301.9 200.5,301.9 201.0,300.4 201.5,296.6 202.0,298.6 202.2,298.8 202.5,299.0 203.0,292.7 203.5,290.4 204.0,289.5 204.2,287.6 204.5,287.0 205.0,292.2 205.5,295.3 206.0,300.6 206.2,302.5 206.5,300.5 207.0,299.7 207.5,303.0 208.0,305.9 208.4,303.1 208.5,302.3 209.0,304.1 209.5,304.7 210.0,304.4 210.5,305.8 211.0,309.1 211.5,309.6 212.0,313.0 212.5,313.5 213.0,312.4 213.5,312.1 214.0,309.7 214.5,309.8 215.0,310.9 215.5,308.9 215.7,307.2 216.0,309.7 216.5,315.4 217.0,311.4 217.5,311.2 218.0,312.6 218.5,315.1 219.0,317.5 219.5,317.9 220.0,315.4 220.5,317.4 221.0,317.5 221.5,316.5 222.0,316.7 222.5,318.8 223.0,318.9 223.5,316.4 224.0,320.1 224.5,319.4 225.0,318.2 225.5,320.7 226.0,318.7 226.5,319.5 227.0,320.0 227.5,322.0 228.0,322.4 228.5,320.2 229.0,322.5 229.5,325.9 230.0,323.6 230.5,323.0 231.0,324.5 231.5,325.3 232.0,323.3 232.5,325.5 233.0,324.5 233.5,325.4 234.0,326.6 234.5,325.6 235.0,324.0 235.5,328.4 236.0,327.3 236.5,326.3 237.0,325.9 237.5,325.3 238.0,326.4 238.5,327.2 239.0,327.9 239.5,329.3 240.0,328.8 240.5,325.9 241.0,327.8 241.5,330.7 242.0,330.0 242.5,329.7 243.0,330.9 243.5,332.3 244.0,330.3 244.5,330.7 245.0,330.2 245.5,331.9 246.0,333.4 246.5,332.0 247.0,329.1 247.5,331.4 248.0,329.7 248.5,331.0 249.0,333.2 249.5,332.5 250.0,331.2 250.5,330.9 251.0,329.1 251.5,330.9 252.0,333.1 252.5,332.0 253.0,331.8 253.5,333.7 254.0,332.3 254.5,331.6 255.0,331.7 255.5,331.5 256.0,330.5 256.5,337.0 257.0,334.9 257.5,333.1 258.0,333.9 258.5,334.4 259.0,327.7 259.5,333.1 260.0,334.3 260.5,333.5 261.0,333.6 261.5,334.8 262.0,330.8 262.5,334.3 263.0,336.2 263.5,333.8 264.0,331.3 264.5,332.9 265.0,335.1 265.5,335.5 266.0,334.8 266.5,335.4 267.0,336.5 267.5,335.9 268.0,333.4 268.5,335.5 269.0,334.5 269.5,333.0 270.0,332.1 270.5,332.9 271.0,338.6 271.5,336.8 272.0,339.3 272.5,337.4 273.0,334.9 273.5,336.7 274.0,337.9 274.5,337.2 275.0,338.0 275.5,338.2 276.0,337.4 276.5,336.0 277.0,333.3 277.5,335.7 278.0,339.7 278.5,340.6 279.0,340.2 279.5,340.4 280.0,337.4 280.5,338.1 281.0,337.4 281.5,338.3 282.0,339.4 282.5,339.2 283.0,340.0 283.5,342.2 284.0,339.4 284.5,339.3 285.0,339.5 285.5,337.7 286.0,341.8 286.5,339.4 287.0,339.5 287.5,340.0 288.0,341.2 288.5,342.7 289.0,340.1 289.5,339.5 290.0,338.5 290.5,339.6 291.0,340.3 291.5,339.1 292.0,339.8 292.5,340.6 293.0,341.7 293.5,340.9 294.0,340.6 294.5,342.8 295.0,344.6 295.5,339.5 296.0,342.2 296.5,344.8 297.0,343.9 297.5,340.9 298.0,342.9 298.5,339.9 299.0,341.5 299.5,342.0 300.0,341.9 300.5,342.3 301.0,340.5 301.5,340.7 302.0,341.3 302.5,341.4 303.0,341.2 303.5,341.6 304.0,342.3 304.5,340.9 305.0,341.9 305.5,343.2 306.0,342.1 306.5,339.4 307.0,343.4 307.5,342.0 308.0,341.3 308.5,340.9 309.0,341.0 309.5,341.7 310.0,341.9 310.5,343.6 311.0,342.0 311.5,343.2 312.0,344.3 312.5,342.5 313.0,344.8 313.5,345.5 314.0,342.8 314.5,343.6 315.0,346.4 315.5,347.0 316.0,343.0 316.5,344.7 317.0,344.2 317.5,344.0 318.0,344.1 318.5,343.7 319.0,343.2 319.5,345.2 320.0,345.8 320.5,345.1 321.0,345.2 321.5,347.0 322.0,346.4 322.5,345.8 323.0,344.0" fill="none" stroke="#00f200" stroke-width="2.9" stroke-linejoin="round" clip-path="url(#ca3)"/>
<polyline points="39.0,435.1 39.5,435.6 40.0,434.1 40.5,433.2 41.0,432.7 41.5,433.8 42.0,435.6 42.5,436.2 43.0,434.2 43.5,432.1 44.0,431.9 44.5,434.2 45.0,435.6 45.5,433.4 46.0,430.6 46.5,433.0 47.0,432.2 47.5,432.0 48.0,432.5 48.5,432.6 49.0,432.2 49.5,434.0 50.0,433.6 50.5,432.8 51.0,432.9 51.5,434.1 52.0,434.7 52.5,431.1 53.0,431.9 53.5,432.1 54.0,431.9 54.5,432.5 55.0,430.8 55.5,432.7 55.7,433.0 56.0,432.9 56.5,432.7 57.0,432.0 57.5,431.3 58.0,432.2 58.5,431.2 59.0,430.6 59.5,431.8 60.0,432.4 60.5,431.5 61.0,434.7 61.5,434.1 62.0,430.8 62.5,431.1 63.0,432.3 63.5,431.0 64.0,432.6 64.5,432.6 65.0,430.2 65.5,430.5 66.0,432.0 66.5,432.3 67.0,434.0 67.5,430.8 68.0,432.4 68.5,431.9 69.0,430.7 69.5,431.3 70.0,430.5 70.5,433.8 71.0,433.3 71.5,434.3 72.0,434.7 72.5,432.5 73.0,432.7 73.5,432.5 74.0,430.6 74.5,430.1 75.0,431.2 75.5,432.2 76.0,429.5 76.5,430.2 77.0,429.9 77.5,430.2 78.0,430.0 78.5,428.7 79.0,428.9 79.5,429.4 80.0,429.3 80.5,428.2 81.0,428.3 81.5,429.7 82.0,426.4 82.5,426.4 83.0,426.3 83.5,428.3 84.0,429.5 84.5,427.7 85.0,426.7 85.5,426.5 86.0,428.3 86.5,427.9 87.0,426.4 87.5,426.8 88.0,429.6 88.5,426.9 89.0,427.4 89.5,428.2 90.0,428.2 90.5,427.8 91.0,428.3 91.5,430.2 92.0,428.2 92.5,426.1 93.0,424.8 93.5,424.4 94.0,426.6 94.5,426.1 95.0,426.6 95.5,426.1 96.0,425.2 96.5,424.8 97.0,424.2 97.5,424.2 98.0,424.9 98.5,424.6 99.0,424.1 99.5,425.0 100.0,427.7 100.5,425.1 101.0,421.7 101.5,423.3 102.0,425.4 102.5,422.9 103.0,420.5 103.5,423.2 104.0,422.4 104.5,421.0 105.0,420.2 105.5,419.9 106.0,419.1 106.5,420.7 107.0,422.3 107.5,421.5 108.0,420.4 108.5,421.8 109.0,424.1 109.5,418.8 110.0,419.5 110.5,419.7 111.0,418.4 111.5,417.1 112.0,416.8 112.5,418.2 113.0,418.8 113.5,417.8 114.0,416.9 114.5,417.6 115.0,418.5 115.5,417.5 116.0,417.9 116.5,417.6 117.0,417.0 117.5,417.3 118.0,419.4 118.5,417.1 119.0,415.7 119.5,415.7 120.0,415.0 120.5,412.6 121.0,413.4 121.5,415.1 122.0,415.0 122.5,415.6 123.0,415.2 123.5,412.2 124.0,409.2 124.5,415.1 125.0,414.8 125.5,411.5 126.0,410.7 126.5,413.5 127.0,410.7 127.5,407.0 128.0,408.0 128.5,408.6 129.0,409.7 129.5,411.6 130.0,406.7 130.5,407.3 131.0,406.9 131.5,406.3 132.0,405.1 132.5,404.1 133.0,405.7 133.5,406.8 134.0,405.8 134.5,402.9 135.0,400.3 135.5,399.8 136.0,401.8 136.5,399.5 137.0,398.6 137.5,396.8 138.0,397.8 138.5,402.8 139.0,400.1 139.5,395.5 140.0,397.3 140.5,398.9 141.0,395.7 141.5,389.6 142.0,393.0 142.5,392.8 143.0,394.1 143.5,393.5 144.0,391.8 144.5,391.2 145.0,391.0 145.5,394.8 146.0,395.7 146.5,391.9 147.0,387.4 147.5,387.8 148.0,395.5 148.5,386.7 149.0,385.3 149.5,386.0 150.0,386.7 150.5,387.3 151.0,388.1 151.5,386.1 152.0,383.0 152.5,383.2 153.0,384.4 153.5,384.2 154.0,387.6 154.5,382.6 155.0,378.6 155.5,377.2 156.0,379.5 156.5,382.7 157.0,377.3 157.5,372.9 158.0,374.5 158.5,376.3 159.0,377.7 159.5,378.5 160.0,372.5 160.5,376.2 161.0,376.8 161.5,374.2 162.0,371.9 162.5,373.5 163.0,378.0 163.5,377.5 164.0,375.3 164.5,373.2 165.0,372.9 165.5,373.5 166.0,369.9 166.5,369.7 167.0,367.8 167.5,368.0 168.0,369.0 168.5,370.0 169.0,377.2 169.5,369.2 170.0,370.5 170.5,371.9 171.0,370.1 171.5,367.5 172.0,370.9 172.5,361.8 173.0,364.7 173.5,368.1 174.0,365.7 174.5,359.2 175.0,362.3 175.5,368.0 176.0,366.2 176.5,363.2 177.0,362.4 177.5,363.7 178.0,363.0 178.5,366.2 179.0,366.1 179.5,364.5 180.0,362.7 180.5,362.0 181.0,363.4 181.5,367.0 182.0,365.4 182.5,364.6 183.0,364.1 183.5,361.6 184.0,358.4 184.5,359.9 185.0,363.1 185.5,363.7 186.0,361.7 186.5,359.2 187.0,357.2 187.5,361.9 188.0,361.9 188.5,361.4 189.0,361.4 189.5,361.8 190.0,363.4 190.5,363.5 191.0,365.2 191.5,366.1 192.0,366.8 192.5,367.8 193.0,366.8 193.5,364.1 194.0,364.5 194.5,366.0 195.0,366.2 195.5,365.2 196.0,367.6 196.5,369.4 197.0,365.7 197.5,362.3 198.0,364.0 198.5,369.8 199.0,366.8 199.5,368.8 200.0,364.9 200.5,367.7 201.0,371.6 201.5,369.2 202.0,367.0 202.5,366.4 203.0,367.4 203.5,367.5 204.0,367.1 204.5,366.5 205.0,364.5 205.5,371.0 206.0,369.8 206.5,369.1 207.0,369.9 207.5,369.2 208.0,363.5 208.5,371.6 209.0,371.9 209.5,371.6 210.0,372.5 210.5,373.1 211.0,370.8 211.5,375.8 212.0,373.9 212.5,372.4 213.0,372.5 213.5,373.4 214.0,376.3 214.5,378.1 215.0,376.1 215.5,373.7 216.0,375.2 216.5,379.6 217.0,374.7 217.5,380.5 218.0,379.5 218.5,377.7 219.0,377.2 219.5,378.2 220.0,381.3 220.5,382.9 221.0,381.6 221.5,382.9 222.0,386.4 222.5,388.2 223.0,383.6 223.5,382.3 224.0,382.8 224.5,383.1 225.0,383.9 225.5,385.7 226.0,386.0 226.5,385.0 227.0,388.5 227.5,386.3 228.0,383.7 228.5,387.8 229.0,395.7 229.5,393.9 230.0,393.0 230.5,393.0 231.0,394.7 231.5,397.1 232.0,395.0 232.5,394.7 233.0,393.0 233.5,394.0 234.0,395.6 234.5,395.1 235.0,395.7 235.5,396.2 236.0,397.8 236.5,398.5 237.0,399.6 237.5,401.1 238.0,397.0 238.5,399.8 239.0,403.9 239.5,403.7 240.0,402.8 240.5,405.0 241.0,405.2 241.5,405.9 242.0,405.3 242.5,402.7 243.0,401.3 243.5,403.3 244.0,403.4 244.5,401.5 245.0,403.1 245.5,403.4 246.0,402.5 246.5,403.1 247.0,407.1 247.5,407.1 248.0,406.4 248.5,406.0 249.0,406.5 249.5,407.5 250.0,408.1 250.5,408.4 251.0,409.2 251.5,409.3 252.0,409.8 252.5,411.3 253.0,411.9 253.5,411.8 254.0,410.5 254.5,410.0 255.0,411.1 255.5,412.6 256.0,411.7 256.5,412.2 257.0,408.9 257.5,407.2 258.0,409.4 258.5,414.0 259.0,414.2 259.5,416.3 260.0,415.9 260.5,415.1 261.0,414.7 261.5,414.1 262.0,411.8 262.5,416.1 263.0,415.0 263.5,415.3 264.0,416.5 264.5,416.3 265.0,416.6 265.5,417.9 266.0,416.4 266.5,415.7 267.0,415.7 267.5,415.4 268.0,416.5 268.5,420.2 269.0,418.3 269.5,418.7 270.0,420.2 270.5,419.8 271.0,419.9 271.5,420.1 272.0,417.9 272.5,418.2 273.0,420.6 273.5,421.7 274.0,418.0 274.5,419.2 275.0,418.7 275.5,419.5 276.0,419.7 276.5,418.9 277.0,423.6 277.5,420.4 278.0,418.4 278.5,421.1 279.0,424.0 279.5,422.9 280.0,422.3 280.5,422.5 281.0,421.5 281.5,421.2 282.0,422.2 282.5,423.6 283.0,424.1 283.5,424.3 284.0,423.6 284.5,422.6 285.0,422.3 285.5,423.3 286.0,425.5 286.5,426.2 287.0,424.2 287.5,423.1 288.0,424.2 288.5,426.4 289.0,425.7 289.5,425.7 290.0,423.3 290.5,423.0 291.0,423.9 291.5,424.0 292.0,425.3 292.5,422.3 293.0,425.6 293.5,426.6 294.0,425.8 294.5,425.5 295.0,423.1 295.5,425.0 296.0,427.1 296.5,425.3 297.0,423.8 297.5,426.3 298.0,427.0 298.5,424.9 299.0,426.4 299.5,426.4 300.0,426.4 300.5,428.2 301.0,427.2 301.5,426.8 302.0,429.0 302.5,429.1 303.0,428.4 303.5,428.3 304.0,424.6 304.5,425.5 305.0,427.6 305.5,428.7 306.0,428.3 306.5,427.5 307.0,428.8 307.5,426.1 308.0,427.2 308.5,426.8 309.0,426.5 309.5,428.1 310.0,426.9 310.5,426.7 311.0,427.6 311.5,429.6 312.0,429.6 312.5,426.3 313.0,426.9 313.5,429.5 314.0,428.3 314.5,429.4 315.0,430.5 315.5,428.6 316.0,428.4 316.5,428.9 317.0,430.7 317.5,430.5 318.0,429.5 318.5,429.3 319.0,428.9 319.5,426.1 320.0,426.4 320.5,429.0 321.0,430.8 321.5,429.9 322.0,429.4 322.5,429.6 323.0,428.2" fill="none" stroke="#fa0000" stroke-width="2.9" stroke-linejoin="round" clip-path="url(#ca4)"/>
<polyline points="330.5,84.0 331.0,84.7 331.5,85.4 332.0,85.7 332.5,86.0 333.0,86.1 333.5,86.2 334.0,86.0 334.5,85.8 335.0,86.0 335.5,86.2 336.0,85.8 336.5,85.5 337.0,85.5 337.5,85.6 338.0,85.5 338.5,85.3 339.0,84.9 339.5,84.5 340.0,84.6 340.5,84.6 341.0,85.0 341.5,85.3 342.0,85.0 342.5,84.7 343.0,85.2 343.5,85.8 344.0,85.8 344.5,85.7 345.0,85.9 345.5,86.0 346.0,85.4 346.5,84.9 347.0,85.3 347.5,85.7 348.0,85.0 348.5,84.2 349.0,84.2 349.5,84.3 350.0,84.5 350.5,84.7 351.0,84.8 351.5,84.8 352.0,84.2 352.5,83.6 353.0,83.6 353.5,83.5 354.0,84.1 354.5,84.7 355.0,84.3 355.5,83.9 356.0,84.5 356.5,85.1 357.0,84.8 357.5,84.6 358.0,84.5 358.5,84.5 359.0,84.4 359.5,84.4 360.0,84.5 360.5,84.7 361.0,84.4 361.5,84.0 362.0,84.4 362.5,84.7 363.0,84.2 363.5,83.7 364.0,83.8 364.5,83.8 365.0,83.6 365.5,83.5 366.0,83.8 366.5,84.2 367.0,84.0 367.5,83.8 368.0,83.5 368.5,83.2 369.0,84.0 369.5,84.9 370.0,84.1 370.5,83.4 371.0,83.4 371.5,83.5 372.0,83.6 372.5,83.7 373.0,84.1 373.5,84.5 374.0,83.9 374.5,83.3 375.0,83.5 375.5,83.7 376.0,83.5 376.5,83.3 377.0,82.8 377.5,82.3 378.0,82.9 378.5,83.6 379.0,83.6 379.5,83.6 380.0,83.2 380.5,82.8 381.0,82.9 381.5,82.9 382.0,82.4 382.5,81.9 383.0,81.9 383.5,81.9 384.0,82.2 384.5,82.5 385.0,82.7 385.5,83.0 386.0,82.6 386.5,82.3 387.0,82.5 387.5,82.6 388.0,82.8 388.5,83.0 389.0,82.7 389.5,82.4 390.0,82.5 390.5,82.6 391.0,82.8 391.5,83.0 392.0,82.2 392.5,81.3 393.0,81.9 393.5,82.4 394.0,81.6 394.5,80.8 395.0,81.4 395.5,82.1 396.0,82.0 396.5,81.9 397.0,81.6 397.5,81.3 398.0,81.1 398.5,80.9 399.0,81.2 399.5,81.4 400.0,81.3 400.5,81.1 401.0,81.2 401.5,81.3 402.0,81.0 402.5,80.6 403.0,81.0 403.5,81.4 404.0,80.9 404.5,80.4 405.0,80.6 405.5,80.7 406.0,80.7 406.5,80.6 407.0,81.0 407.5,81.5 408.0,80.6 408.5,79.7 409.0,80.0 409.5,80.3 410.0,80.7 410.5,81.1 411.0,80.5 411.5,79.9 412.0,79.7 412.5,79.5 413.0,79.9 413.5,80.3 414.0,80.1 414.5,79.9 415.0,80.2 415.5,80.4 416.0,79.9 416.5,79.3 417.0,79.6 417.5,79.9 418.0,80.0 418.5,80.0 419.0,80.1 419.5,80.2 420.0,79.5 420.5,78.8 421.0,79.5 421.5,80.2 422.0,79.5 422.5,78.7 423.0,78.5 423.5,78.2 424.0,78.4 424.5,78.5 425.0,78.8 425.5,79.0 426.0,78.9 426.5,78.7 427.0,78.8 427.5,79.0 428.0,79.0 428.5,78.9 429.0,78.8 429.5,78.7 430.0,78.5 430.5,78.3 431.0,78.8 431.5,79.4 432.0,78.1 432.5,76.9 433.0,77.0 433.5,77.1 434.0,77.4 434.5,77.7 435.0,77.4 435.5,77.1 436.0,76.7 436.5,76.2 437.0,76.7 437.5,77.1 438.0,77.1 438.5,77.0 439.0,76.5 439.5,75.9 440.0,76.8 440.5,77.7 441.0,77.8 441.5,77.9 442.0,77.8 442.5,77.7 443.0,77.1 443.5,76.5 444.0,76.6 444.5,76.7 445.0,76.2 445.5,75.8 446.0,76.1 446.5,76.4 447.0,76.0 447.5,75.7 448.0,75.9 448.5,76.2 449.0,75.9 449.5,75.5 450.0,75.9 450.5,76.2 451.0,76.1 451.5,75.9 452.0,76.0 452.5,76.0 453.0,75.1 453.5,74.1 454.0,74.0 454.5,73.9 455.0,74.5 455.5,75.1 456.0,74.7 456.5,74.4 457.0,74.7 457.5,74.9 458.0,74.9 458.5,74.8 459.0,74.7 459.5,74.7 460.0,74.9 460.5,75.1 461.0,74.9 461.5,74.8 462.0,74.7 462.5,74.6 463.0,74.2 463.5,73.7 464.0,74.4 464.5,75.1 465.0,74.5 465.5,73.9 465.9,74.0 466.0,74.0 466.5,73.4 467.0,71.0 467.1,70.4 467.5,62.2 467.7,54.6 468.0,24.7 468.5,11.7 469.0,4.5 469.3,3.2 469.5,3.8 470.0,10.9 470.5,24.3 470.9,54.4 471.0,58.0 471.5,71.1 471.7,72.5 472.0,72.4 472.5,72.3 473.0,72.5 473.5,72.6 474.0,72.8 474.5,73.0 475.0,73.0 475.5,73.0 476.0,72.8 476.5,72.5 477.0,73.4 477.5,74.3 478.0,73.2 478.5,72.0 479.0,72.0 479.5,71.9 479.6,72.0 480.0,65.4 480.4,53.3 480.5,50.3 481.0,28.0 481.5,11.7 481.6,11.2 482.0,18.9 482.5,39.7 482.8,51.1 483.0,58.7 483.5,72.9 484.0,73.0 484.5,73.1 485.0,73.1 485.5,72.9 486.0,73.1 486.5,73.2 487.0,73.7 487.5,74.2 488.0,74.4 488.5,74.6 488.8,74.1 489.0,73.8 489.5,73.0 490.0,73.6 490.5,74.2 491.0,73.7 491.5,73.2 492.0,73.4 492.5,73.5 493.0,72.8 493.5,69.0 493.9,66.3 494.0,66.4 494.5,70.5 494.9,73.3 495.0,73.4 495.5,74.1 496.0,74.6 496.5,75.0 497.0,75.7 497.5,76.2 498.0,76.9 498.5,77.5 499.0,76.9 499.5,76.2 499.7,76.3 500.0,76.4 500.5,76.5 501.0,76.9 501.5,77.2 502.0,77.2 502.5,77.2 503.0,77.6 503.5,77.9 504.0,78.0 504.5,78.1 505.0,78.1 505.5,78.1 506.0,77.9 506.5,77.8 507.0,78.2 507.5,78.6 508.0,78.9 508.5,79.3 509.0,79.1 509.5,79.0 510.0,79.5 510.5,80.0 511.0,80.0 511.5,79.9 512.0,79.6 512.5,79.4 513.0,80.1 513.5,80.7 514.0,79.9 514.5,79.1 515.0,79.9 515.5,80.7 516.0,80.9 516.5,81.2 517.0,80.6 517.5,80.1 518.0,80.2 518.5,80.3 519.0,80.6 519.5,81.0 520.0,81.2 520.5,81.4 521.0,81.1 521.5,80.9 522.0,80.8 522.5,80.8 523.0,81.1 523.5,81.3 524.0,81.1 524.5,81.0 525.0,80.6 525.5,80.2 526.0,80.5 526.5,80.9 527.0,81.0 527.5,81.0 528.0,80.6 528.5,80.2 529.0,80.8 529.5,81.4 530.0,81.1 530.5,80.8 531.0,81.3 531.5,81.7 532.0,81.1 532.5,80.5 533.0,80.7 533.5,80.9 534.0,80.7 534.5,80.6 535.0,81.4 535.5,82.3 536.0,82.3 536.5,82.3 537.0,82.4 537.5,82.5 538.0,82.5 538.5,82.6 539.0,82.4 539.5,82.3 540.0,82.3 540.5,82.3 541.0,81.5 541.5,80.8 542.0,81.4 542.5,82.0 543.0,81.8 543.5,81.6 544.0,81.7 544.5,81.7 545.0,81.5 545.5,81.2 546.0,82.0 546.5,82.8 547.0,82.5 547.5,82.2 548.0,81.7 548.5,81.2 549.0,81.8 549.5,82.4 550.0,82.3 550.5,82.1 551.0,81.9 551.5,81.6 552.0,81.8 552.5,82.1 553.0,81.9 553.5,81.8 554.0,81.4 554.5,80.9 555.0,81.2 555.5,81.4 556.0,82.1 556.5,82.7 557.0,82.6 557.5,82.6 558.0,82.6 558.5,82.6 559.0,82.2 559.5,81.8 560.0,82.0 560.5,82.2 561.0,82.4 561.5,82.6 562.0,82.8 562.5,83.0 563.0,82.6 563.5,82.1 564.0,82.1 564.5,82.1 565.0,82.7 565.5,83.4 566.0,83.1 566.5,82.8 567.0,82.7 567.5,82.6 568.0,82.5 568.5,82.4 569.0,82.5 569.5,82.5 570.0,83.2 570.5,83.9 571.0,83.7 571.5,83.6 572.0,83.2 572.5,82.8 573.0,82.5 573.5,82.3 574.0,83.2 574.5,84.1 575.0,84.1 575.5,84.1 576.0,84.0 576.5,83.9 577.0,83.8 577.5,83.7 578.0,82.9 578.5,82.1 579.0,82.3 579.5,82.5 580.0,83.1 580.5,83.7 581.0,83.4 581.5,83.2 582.0,83.4 582.5,83.6 583.0,83.4 583.5,83.1 584.0,83.1 584.5,83.1 585.0,83.5 585.5,83.9 586.0,83.6 586.5,83.3 587.0,83.5 587.5,83.6 588.0,83.7 588.5,83.8 589.0,83.8 589.5,83.8 590.0,84.1 590.5,84.4 591.0,84.5 591.5,84.6 592.0,83.8 592.5,83.0 593.0,83.3 593.5,83.7 594.0,83.6 594.5,83.5 595.0,83.9 595.5,84.3 596.0,83.8 596.5,83.3 597.0,83.8 597.5,84.4 598.0,84.4 598.5,84.4 599.0,84.4 599.5,84.4 600.0,83.9 600.5,83.5 601.0,83.7 601.5,83.9 602.0,83.7 602.5,83.5 603.0,83.9 603.5,84.4 604.0,84.6 604.5,84.7 605.0,84.0 605.5,83.3 606.0,83.5 606.5,83.7 607.0,84.0 607.5,84.2 608.0,84.1 608.5,84.0 609.0,84.6 609.5,85.2 610.0,84.7 610.5,84.3 611.0,84.4 611.5,84.5 612.0,84.1 612.5,83.7 613.0,84.5 613.5,85.4 614.0,85.0 614.5,84.6 615.0,84.8 615.5,84.9" fill="none" stroke="#848414" stroke-width="2.6" stroke-linejoin="round" clip-path="url(#cb0)"/>
<polyline points="330.5,170.8 331.0,170.5 331.5,170.3 332.0,170.4 332.5,170.5 333.0,170.3 333.5,170.0 334.0,170.3 334.5,170.6 335.0,170.9 335.5,171.2 336.0,170.6 336.5,170.0 337.0,169.9 337.5,169.9 338.0,170.1 338.5,170.4 339.0,170.3 339.5,170.2 340.0,170.1 340.5,170.0 341.0,169.6 341.5,169.3 342.0,169.5 342.5,169.7 343.0,169.9 343.5,170.0 344.0,169.4 344.5,168.7 345.0,168.9 345.5,169.2 346.0,168.7 346.5,168.2 347.0,168.3 347.5,168.5 348.0,168.2 348.5,168.0 349.0,168.5 349.5,168.9 350.0,168.5 350.5,168.2 351.0,168.6 351.5,169.0 352.0,168.9 352.5,168.8 353.0,168.7 353.5,168.5 354.0,167.8 354.5,167.0 355.0,167.6 355.5,168.1 356.0,168.2 356.5,168.3 357.0,168.3 357.5,168.3 358.0,167.8 358.5,167.2 359.0,167.5 359.5,167.8 360.0,167.6 360.5,167.4 361.0,167.4 361.5,167.4 362.0,167.9 362.5,168.4 363.0,167.8 363.5,167.2 364.0,167.4 364.5,167.6 365.0,167.8 365.5,168.0 366.0,167.6 366.5,167.1 367.0,167.2 367.5,167.3 368.0,167.3 368.5,167.3 369.0,167.2 369.5,167.2 370.0,166.7 370.5,166.3 371.0,166.7 371.5,167.0 372.0,167.3 372.5,167.7 373.0,166.8 373.5,165.9 374.0,166.5 374.5,167.2 375.0,166.9 375.5,166.7 376.0,166.4 376.5,166.1 377.0,166.9 377.5,167.6 378.0,167.2 378.5,166.8 379.0,166.2 379.5,165.5 380.0,165.9 380.5,166.2 381.0,166.3 381.5,166.4 382.0,166.1 382.5,165.9 383.0,166.1 383.5,166.3 384.0,166.0 384.5,165.8 385.0,165.9 385.5,166.1 386.0,166.3 386.5,166.5 387.0,165.8 387.5,165.1 388.0,165.4 388.5,165.6 389.0,165.3 389.5,165.1 390.0,165.2 390.5,165.4 391.0,164.9 391.5,164.5 392.0,164.6 392.5,164.8 393.0,164.8 393.5,164.9 394.0,165.2 394.5,165.5 395.0,165.5 395.5,165.6 396.0,164.8 396.5,164.0 397.0,164.1 397.5,164.2 398.0,164.6 398.5,165.0 399.0,164.2 399.5,163.3 400.0,163.8 400.5,164.2 401.0,164.3 401.5,164.3 402.0,164.7 402.5,165.1 403.0,164.8 403.5,164.6 404.0,164.3 404.5,164.0 405.0,163.9 405.5,163.9 406.0,163.9 406.5,163.9 407.0,164.4 407.5,164.9 408.0,164.2 408.5,163.6 409.0,163.6 409.5,163.6 410.0,163.8 410.5,164.0 411.0,163.8 411.5,163.6 412.0,163.6 412.5,163.5 413.0,163.2 413.5,162.9 414.0,163.2 414.5,163.5 415.0,163.4 415.5,163.2 416.0,163.6 416.5,164.1 417.0,163.9 417.5,163.7 418.0,163.5 418.5,163.3 419.0,163.4 419.5,163.6 420.0,163.3 420.5,163.0 421.0,163.3 421.5,163.7 422.0,163.4 422.5,163.0 423.0,163.2 423.5,163.3 424.0,162.7 424.5,162.1 425.0,162.6 425.5,163.0 426.0,162.4 426.5,161.7 427.0,161.6 427.5,161.5 428.0,161.9 428.5,162.4 429.0,162.2 429.5,162.0 430.0,162.3 430.5,162.5 431.0,163.1 431.5,163.7 432.0,162.7 432.5,161.8 433.0,161.8 433.5,161.8 434.0,162.0 434.5,162.2 435.0,162.3 435.5,162.3 436.0,162.0 436.5,161.8 437.0,161.7 437.5,161.7 438.0,161.9 438.5,162.1 439.0,162.0 439.5,161.9 440.0,161.3 440.5,160.8 441.0,161.0 441.5,161.2 442.0,161.2 442.5,161.1 443.0,160.7 443.5,160.3 444.0,160.6 444.5,160.8 445.0,160.4 445.5,159.9 446.0,160.4 446.5,160.8 447.0,160.4 447.5,160.1 448.0,159.9 448.5,159.8 449.0,159.4 449.5,159.1 450.0,159.1 450.5,159.1 451.0,158.5 451.5,157.8 452.0,157.9 452.5,158.1 453.0,158.4 453.5,158.8 454.0,157.9 454.5,157.1 455.0,157.9 455.5,158.7 456.0,157.9 456.5,157.1 457.0,157.8 457.5,158.5 458.0,158.0 458.5,157.5 459.0,157.9 459.5,158.4 460.0,158.2 460.5,158.0 461.0,157.4 461.5,156.9 462.0,157.7 462.5,158.5 463.0,158.4 463.5,158.4 464.0,157.9 464.5,157.3 465.0,157.2 465.5,157.0 465.9,156.9 466.0,156.7 466.5,153.8 467.0,148.2 467.1,147.0 467.5,138.9 468.0,129.3 468.5,124.7 469.0,120.2 469.5,118.1 470.0,122.6 470.5,131.7 470.7,135.2 471.0,141.5 471.5,152.3 471.7,154.1 472.0,154.9 472.5,155.9 473.0,156.4 473.5,156.7 474.0,157.7 474.3,158.2 474.5,158.5 475.0,158.0 475.5,157.6 476.0,157.9 476.5,158.3 477.0,158.0 477.5,157.7 478.0,157.5 478.5,156.0 479.0,152.5 479.2,150.7 479.5,143.9 480.0,125.7 480.1,122.9 480.5,112.8 481.0,100.8 481.5,92.8 481.8,91.1 482.0,92.2 482.5,102.5 483.0,117.0 483.5,138.8 484.0,154.1 484.5,155.0 485.0,155.9 485.5,156.6 486.0,157.7 486.4,158.5 486.5,158.8 487.0,158.4 487.5,158.1 488.0,158.3 488.5,158.5 489.0,159.1 489.5,159.7 490.0,160.0 490.5,159.7 491.0,157.3 491.5,154.4 492.0,152.8 492.4,152.0 492.5,151.8 493.0,150.6 493.4,150.0 493.5,150.1 494.0,151.3 494.5,153.4 494.9,155.3 495.0,155.7 495.5,157.2 496.0,157.6 496.5,157.9 497.0,158.4 497.5,158.8 498.0,159.0 498.5,159.0 499.0,159.7 499.5,160.4 500.0,160.4 500.5,160.4 501.0,160.8 501.5,161.1 502.0,161.1 502.5,161.0 503.0,161.2 503.5,161.3 504.0,162.3 504.5,163.2 505.0,162.7 505.5,162.3 506.0,162.7 506.5,163.0 507.0,163.0 507.5,163.0 508.0,163.0 508.5,163.0 509.0,163.1 509.5,163.1 510.0,163.6 510.5,164.0 511.0,163.8 511.5,163.6 512.0,163.7 512.5,163.8 513.0,163.9 513.5,164.1 514.0,164.5 514.5,164.9 515.0,164.8 515.5,164.7 516.0,164.7 516.5,164.6 517.0,164.4 517.5,164.1 518.0,163.9 518.5,163.7 519.0,164.5 519.5,165.2 520.0,165.3 520.5,165.3 521.0,165.0 521.5,164.7 522.0,165.0 522.5,165.2 523.0,165.3 523.5,165.4 524.0,165.5 524.5,165.5 525.0,165.6 525.5,165.6 526.0,165.2 526.5,164.9 527.0,165.5 527.5,166.1 528.0,165.3 528.5,164.5 529.0,165.2 529.5,165.8 530.0,165.7 530.5,165.6 531.0,165.8 531.5,165.9 532.0,166.2 532.5,166.6 533.0,166.5 533.5,166.4 534.0,165.6 534.5,164.8 535.0,164.7 535.5,164.6 536.0,165.3 536.5,166.1 537.0,165.6 537.5,165.0 538.0,165.4 538.5,165.7 539.0,166.0 539.5,166.2 540.0,165.5 540.5,164.8 541.0,164.7 541.5,164.5 542.0,165.3 542.5,166.0 543.0,165.9 543.5,165.9 544.0,165.8 544.5,165.8 545.0,165.9 545.5,166.0 546.0,165.7 546.5,165.5 547.0,165.3 547.5,165.1 548.0,165.5 548.5,166.0 549.0,165.7 549.5,165.5 550.0,165.3 550.5,165.2 551.0,165.8 551.5,166.5 552.0,166.3 552.5,166.2 553.0,166.3 553.5,166.5 554.0,166.1 554.5,165.7 555.0,165.8 555.5,166.0 556.0,165.9 556.5,165.8 557.0,165.9 557.5,165.9 558.0,166.3 558.5,166.6 559.0,166.4 559.5,166.1 560.0,166.5 560.5,166.8 561.0,166.9 561.5,166.9 562.0,167.4 562.5,168.0 563.0,167.0 563.5,166.0 564.0,166.7 564.5,167.4 565.0,167.1 565.5,166.9 566.0,166.9 566.5,167.0 567.0,166.6 567.5,166.2 568.0,166.5 568.5,166.8 569.0,167.2 569.5,167.6 570.0,167.4 570.5,167.2 571.0,167.3 571.5,167.4 572.0,167.3 572.5,167.2 573.0,167.7 573.5,168.2 574.0,167.8 574.5,167.5 575.0,166.9 575.5,166.3 576.0,166.8 576.5,167.3 577.0,166.9 577.5,166.6 578.0,166.2 578.5,165.9 579.0,166.7 579.5,167.6 580.0,168.2 580.5,168.8 581.0,168.4 581.5,168.1 582.0,167.7 582.5,167.4 583.0,167.5 583.5,167.6 584.0,168.3 584.5,168.9 585.0,168.7 585.5,168.4 586.0,168.4 586.5,168.4 587.0,168.5 587.5,168.5 588.0,168.5 588.5,168.6 589.0,168.9 589.5,169.1 590.0,169.1 590.5,169.1 591.0,169.0 591.5,168.9 592.0,168.6 592.5,168.3 593.0,168.8 593.5,169.3 594.0,169.0 594.5,168.6 595.0,169.2 595.5,169.8 596.0,169.1 596.5,168.5 597.0,168.8 597.5,169.2 598.0,169.3 598.5,169.4 599.0,169.0 599.5,168.7 600.0,169.6 600.5,170.6 601.0,170.6 601.5,170.5 602.0,170.0 602.5,169.5 603.0,169.9 603.5,170.3 604.0,170.2 604.5,170.2 605.0,169.3 605.5,168.4 606.0,169.4 606.5,170.3 607.0,170.2 607.5,170.2 608.0,170.3 608.5,170.3 609.0,170.0 609.5,169.7 610.0,170.0 610.5,170.3 611.0,170.4 611.5,170.5 612.0,170.9 612.5,171.4 613.0,171.2 613.5,171.0 614.0,170.9 614.5,170.9 615.0,171.4 615.5,171.9" fill="none" stroke="#ec10ec" stroke-width="2.5" stroke-linejoin="round" clip-path="url(#cb1)"/>
<polyline points="330.5,261.0 331.0,261.4 331.5,261.7 332.0,261.0 332.5,260.3 333.0,261.1 333.5,261.8 334.0,261.5 334.5,261.2 335.0,261.9 335.5,262.5 336.0,262.5 336.5,262.5 337.0,262.7 337.5,262.8 338.0,262.6 338.5,262.3 339.0,262.0 339.5,261.7 340.0,262.0 340.5,262.3 341.0,262.5 341.5,262.7 342.0,261.9 342.5,261.2 343.0,261.6 343.5,262.0 344.0,261.7 344.5,261.5 345.0,262.0 345.5,262.5 346.0,261.6 346.5,260.8 347.0,261.0 347.5,261.1 348.0,261.3 348.5,261.5 349.0,261.5 349.5,261.4 350.0,260.7 350.5,260.0 351.0,260.7 351.5,261.3 352.0,261.1 352.5,260.9 353.0,260.9 353.5,260.8 354.0,260.8 354.5,260.8 355.0,260.9 355.5,260.9 356.0,260.2 356.5,259.4 357.0,260.6 357.5,261.7 358.0,260.8 358.5,259.9 359.0,259.4 359.5,258.9 360.0,259.6 360.5,260.3 361.0,260.8 361.5,261.3 362.0,260.6 362.5,259.8 363.0,260.5 363.5,261.2 364.0,261.2 364.5,261.1 365.0,260.2 365.5,259.3 366.0,258.7 366.5,258.1 367.0,258.5 367.5,258.9 368.0,259.7 368.5,260.5 369.0,259.7 369.5,259.0 370.0,258.7 370.5,258.4 371.0,258.4 371.5,258.4 372.0,258.8 372.5,259.2 373.0,259.2 373.5,259.1 374.0,259.4 374.5,259.6 375.0,259.6 375.5,259.6 376.0,258.9 376.5,258.1 377.0,258.4 377.5,258.6 378.0,258.2 378.5,257.8 379.0,258.1 379.5,258.5 380.0,258.0 380.5,257.5 381.0,257.5 381.5,257.4 382.0,258.5 382.5,259.6 383.0,258.8 383.5,258.0 384.0,258.2 384.5,258.3 385.0,258.9 385.5,259.5 386.0,258.9 386.5,258.2 387.0,257.8 387.5,257.5 388.0,257.5 388.5,257.5 389.0,257.1 389.5,256.8 390.0,257.4 390.5,257.9 391.0,257.4 391.5,256.8 392.0,257.5 392.5,258.2 393.0,257.4 393.5,256.6 394.0,256.5 394.5,256.4 395.0,256.3 395.5,256.3 396.0,256.6 396.5,256.9 397.0,256.7 397.5,256.4 398.0,256.8 398.5,257.1 399.0,256.4 399.5,255.7 400.0,255.9 400.5,256.1 401.0,256.7 401.5,257.2 402.0,256.3 402.5,255.5 403.0,255.7 403.5,255.9 404.0,256.2 404.5,256.5 405.0,256.1 405.5,255.6 406.0,255.1 406.5,254.6 407.0,254.1 407.5,253.5 408.0,255.0 408.5,256.4 409.0,255.7 409.5,254.9 410.0,255.1 410.5,255.3 411.0,254.6 411.5,253.9 412.0,254.6 412.5,255.4 413.0,254.8 413.5,254.3 414.0,254.0 414.5,253.7 415.0,253.3 415.5,252.9 416.0,253.2 416.5,253.6 417.0,253.2 417.5,252.8 418.0,252.8 418.5,252.8 419.0,252.2 419.5,251.6 420.0,251.9 420.5,252.2 421.0,252.3 421.5,252.4 422.0,251.8 422.5,251.2 423.0,251.6 423.5,251.9 424.0,252.0 424.5,252.1 425.0,251.7 425.5,251.2 426.0,251.0 426.5,250.8 427.0,250.7 427.5,250.6 428.0,251.0 428.5,251.4 429.0,250.4 429.5,249.5 430.0,249.8 430.5,250.1 431.0,249.9 431.5,249.8 432.0,249.9 432.5,249.9 433.0,249.7 433.5,249.5 434.0,249.1 434.5,248.6 435.0,249.6 435.5,250.5 436.0,249.8 436.5,249.0 437.0,248.3 437.5,247.7 438.0,247.7 438.5,247.7 439.0,248.0 439.5,248.2 440.0,248.2 440.5,248.3 441.0,247.5 441.5,246.7 442.0,247.2 442.5,247.8 443.0,246.9 443.5,246.0 444.0,246.1 444.5,246.1 445.0,246.6 445.5,247.0 446.0,247.1 446.5,247.2 447.0,246.4 447.5,245.6 448.0,245.4 448.5,245.2 449.0,245.5 449.5,245.9 450.0,244.9 450.5,244.0 451.0,244.3 451.5,244.6 452.0,244.4 452.5,244.3 453.0,244.4 453.5,244.5 454.0,244.1 454.5,243.7 455.0,243.4 455.5,243.1 456.0,243.3 456.5,243.5 457.0,242.8 457.5,242.2 458.0,242.8 458.5,243.4 459.0,242.8 459.5,242.2 460.0,242.1 460.5,242.0 461.0,242.1 461.5,242.2 462.0,242.2 462.5,242.3 463.0,242.4 463.5,242.5 464.0,242.0 464.5,241.5 465.0,241.6 465.5,241.7 465.9,241.6 466.0,241.5 466.5,240.3 467.0,237.2 467.3,234.5 467.5,227.8 468.0,203.8 468.5,198.9 469.0,196.7 469.5,196.3 470.0,198.5 470.5,202.2 470.7,202.9 471.0,203.0 471.5,202.9 471.9,204.2 472.0,205.3 472.5,222.5 472.9,234.0 473.0,235.1 473.5,239.5 474.0,241.3 474.3,241.5 474.5,241.2 475.0,241.0 475.5,240.6 476.0,239.4 476.5,238.3 476.7,238.3 477.0,238.4 477.5,238.7 478.0,238.3 478.5,237.9 479.0,237.3 479.5,236.4 479.8,236.0 480.0,234.4 480.5,223.0 481.0,210.6 481.5,204.0 481.8,200.4 482.0,196.8 482.5,185.1 483.0,179.4 483.5,187.2 484.0,200.2 484.2,205.2 484.5,213.9 485.0,230.9 485.2,234.5 485.5,237.3 486.0,239.7 486.5,241.0 487.0,242.4 487.5,243.2 488.0,244.1 488.5,244.9 489.0,244.4 489.5,243.9 490.0,243.6 490.5,243.3 491.0,244.5 491.2,245.0 491.5,245.7 492.0,244.8 492.5,243.9 493.0,244.1 493.5,244.3 494.0,244.6 494.5,244.8 495.0,244.3 495.5,243.8 496.0,244.8 496.5,245.7 497.0,246.0 497.5,246.2 498.0,246.0 498.5,245.8 499.0,245.8 499.5,245.8 500.0,245.7 500.5,245.7 501.0,246.2 501.5,246.7 502.0,245.4 502.5,244.2 503.0,245.4 503.5,246.6 504.0,246.9 504.5,247.1 505.0,246.5 505.5,245.8 506.0,246.8 506.5,247.8 507.0,247.8 507.5,247.7 508.0,247.9 508.5,248.1 509.0,248.2 509.5,248.4 510.0,248.7 510.5,249.1 511.0,249.2 511.5,249.3 512.0,248.9 512.5,248.5 513.0,249.0 513.5,249.4 514.0,249.5 514.5,249.6 515.0,249.8 515.5,250.0 516.0,249.9 516.5,249.9 517.0,250.5 517.5,251.2 518.0,251.4 518.5,251.6 519.0,251.8 519.5,252.0 520.0,252.2 520.5,252.4 521.0,252.4 521.5,252.3 522.0,251.7 522.5,251.1 523.0,251.1 523.5,251.2 524.0,251.3 524.5,251.5 525.0,251.9 525.5,252.3 526.0,252.2 526.5,252.0 527.0,252.5 527.5,252.9 528.0,253.2 528.5,253.5 529.0,252.9 529.5,252.2 530.0,252.8 530.5,253.4 531.0,252.9 531.5,252.5 532.0,252.3 532.5,252.1 533.0,252.1 533.5,252.2 534.0,252.6 534.5,253.0 535.0,252.5 535.5,252.0 536.0,252.9 536.5,253.8 537.0,254.2 537.5,254.7 538.0,253.8 538.5,252.9 539.0,253.3 539.5,253.6 540.0,254.3 540.5,255.0 541.0,254.7 541.5,254.3 542.0,254.3 542.5,254.3 543.0,254.2 543.5,254.1 544.0,254.6 544.5,255.1 545.0,254.9 545.5,254.7 546.0,254.3 546.5,253.9 547.0,253.5 547.5,253.0 548.0,253.0 548.5,253.0 549.0,254.2 549.5,255.4 550.0,255.1 550.5,254.9 551.0,255.5 551.5,256.2 552.0,255.9 552.5,255.6 553.0,255.0 553.5,254.5 554.0,255.1 554.5,255.7 555.0,256.0 555.5,256.4 556.0,255.7 556.5,255.0 557.0,255.2 557.5,255.4 558.0,256.2 558.5,257.1 559.0,255.9 559.5,254.7 560.0,255.0 560.5,255.3 561.0,256.1 561.5,256.9 562.0,256.6 562.5,256.4 563.0,256.0 563.5,255.5 564.0,255.5 564.5,255.4 565.0,256.1 565.5,256.9 566.0,257.2 566.5,257.5 567.0,257.4 567.5,257.3 568.0,257.2 568.5,257.1 569.0,257.5 569.5,258.0 570.0,257.6 570.5,257.2 571.0,256.9 571.5,256.5 572.0,257.6 572.5,258.6 573.0,257.5 573.5,256.4 574.0,256.9 574.5,257.3 575.0,257.4 575.5,257.4 576.0,258.0 576.5,258.6 577.0,257.8 577.5,257.1 578.0,257.3 578.5,257.6 579.0,257.1 579.5,256.6 580.0,257.4 580.5,258.2 581.0,258.2 581.5,258.3 582.0,258.4 582.5,258.6 583.0,258.0 583.5,257.5 584.0,258.0 584.5,258.4 585.0,258.1 585.5,257.7 586.0,257.9 586.5,258.1 587.0,258.3 587.5,258.5 588.0,259.0 588.5,259.5 589.0,258.9 589.5,258.4 590.0,258.6 590.5,258.9 591.0,258.6 591.5,258.3 592.0,258.4 592.5,258.5 593.0,258.5 593.5,258.5 594.0,258.7 594.5,259.0 595.0,259.3 595.5,259.7 596.0,259.1 596.5,258.5 597.0,259.1 597.5,259.8 598.0,259.3 598.5,258.7 599.0,259.2 599.5,259.7 600.0,259.4 600.5,259.1 601.0,259.3 601.5,259.4 602.0,259.4 602.5,259.4 603.0,259.9 603.5,260.5 604.0,260.2 604.5,260.0 605.0,260.3 605.5,260.6 606.0,260.1 606.5,259.7 607.0,259.7 607.5,259.8 608.0,260.5 608.5,261.2 609.0,260.1 609.5,259.0 610.0,259.3 610.5,259.6 611.0,259.8 611.5,260.1 612.0,260.8 612.5,261.6 613.0,260.7 613.5,259.9 614.0,260.4 614.5,261.0 615.0,261.3 615.5,261.6" fill="none" stroke="#1ee8e8" stroke-width="2.5" stroke-linejoin="round" clip-path="url(#cb2)"/>
<polyline points="330.5,345.4 331.0,346.8 331.5,347.1 332.0,346.6 332.5,345.5 333.0,346.1 333.5,346.4 334.0,346.3 334.5,345.9 335.0,345.4 335.5,345.1 336.0,344.5 336.5,343.6 337.0,346.0 337.5,347.0 338.0,346.0 338.5,347.2 339.0,348.3 339.5,347.1 340.0,346.4 340.5,346.0 341.0,345.3 341.5,345.5 342.0,346.9 342.5,346.1 343.0,345.3 343.5,346.7 344.0,346.4 344.5,345.0 345.0,345.4 345.5,345.1 346.0,343.9 346.5,345.7 347.0,347.5 347.5,345.8 348.0,345.0 348.5,344.7 349.0,345.5 349.5,345.5 350.0,344.3 350.5,344.9 351.0,345.5 351.5,344.1 352.0,344.2 352.5,345.4 353.0,344.2 353.5,343.3 354.0,342.7 354.5,343.3 355.0,343.8 355.5,343.1 356.0,343.7 356.5,345.0 357.0,344.6 357.5,344.4 358.0,344.7 358.5,344.5 359.0,344.2 359.5,343.8 360.0,343.8 360.5,344.0 361.0,344.7 361.5,344.7 362.0,343.8 362.5,343.2 363.0,342.8 363.5,342.7 364.0,342.8 364.5,343.3 365.0,342.9 365.5,343.3 366.0,345.1 366.5,343.7 367.0,342.0 367.5,342.0 368.0,342.3 368.5,342.7 369.0,343.3 369.5,343.4 370.0,342.7 370.5,342.1 371.0,341.7 371.5,341.7 372.0,341.8 372.5,342.1 373.0,342.9 373.5,342.8 374.0,341.4 374.5,341.5 375.0,341.8 375.5,341.4 376.0,341.5 376.5,342.0 377.0,342.0 377.5,341.4 378.0,340.0 378.5,341.8 379.0,343.5 379.5,341.9 380.0,340.9 380.5,340.3 381.0,339.9 381.5,339.8 382.0,340.1 382.5,340.3 383.0,340.4 383.5,340.7 384.0,340.4 384.5,339.9 385.0,340.1 385.5,339.6 386.0,338.1 386.5,338.1 387.0,338.4 387.5,338.1 388.0,338.4 388.5,339.1 389.0,339.2 389.5,338.7 390.0,337.2 390.5,337.5 391.0,338.2 391.5,338.7 392.0,338.9 392.5,338.9 393.0,337.4 393.5,336.9 394.0,337.9 394.5,337.9 395.0,337.5 395.5,336.9 396.0,337.5 396.5,339.1 397.0,336.8 397.5,335.6 398.0,336.1 398.5,336.5 399.0,336.7 399.5,336.5 400.0,336.1 400.5,335.7 401.0,336.6 401.5,337.1 402.0,337.1 402.5,336.6 403.0,336.2 403.5,336.2 404.0,335.6 404.5,334.7 405.0,333.8 405.5,334.2 406.0,336.3 406.5,334.9 407.0,333.5 407.5,335.5 408.0,335.3 408.5,333.5 409.0,333.6 409.5,333.5 410.0,333.1 410.5,333.5 411.0,333.7 411.5,332.6 412.0,333.0 412.5,334.5 413.0,333.4 413.5,332.6 414.0,332.2 414.5,331.6 415.0,331.1 415.5,331.6 416.0,331.5 416.5,331.2 417.0,332.3 417.5,332.7 418.0,331.8 418.5,330.2 419.0,329.1 419.5,331.0 420.0,330.1 420.5,327.3 421.0,329.8 421.5,330.3 422.0,327.8 422.5,328.2 423.0,329.1 423.5,329.5 424.0,329.3 424.5,328.5 425.0,327.6 425.5,327.6 426.0,329.1 426.5,327.6 427.0,325.8 427.5,325.8 428.0,326.9 428.5,328.7 429.0,327.0 429.5,326.2 430.0,326.8 430.5,327.1 431.0,327.1 431.5,326.4 432.0,326.1 432.5,326.2 433.0,325.9 433.5,325.7 434.0,325.6 434.5,326.0 435.0,326.4 435.5,326.0 436.0,325.5 436.5,325.0 437.0,325.2 437.5,324.9 438.0,323.7 438.5,323.2 439.0,322.9 439.5,322.6 440.0,323.1 440.5,324.2 441.0,324.6 441.5,324.4 442.0,323.1 442.5,321.6 443.0,320.5 443.5,321.3 444.0,322.0 444.5,322.5 445.0,322.2 445.5,321.8 446.0,321.5 446.5,321.8 447.0,322.1 447.5,321.9 448.0,320.7 448.5,319.0 449.0,320.0 449.5,320.3 450.0,319.3 450.5,319.5 451.0,320.0 451.5,320.5 452.0,320.9 452.5,321.1 453.0,320.2 453.5,319.3 454.0,318.3 454.5,318.1 455.0,318.2 455.5,318.7 456.0,318.2 456.5,317.1 457.0,317.7 457.5,318.2 458.0,318.6 458.5,318.8 459.0,318.8 459.5,317.9 460.0,317.8 460.5,318.3 461.0,318.9 461.5,319.0 462.0,318.3 462.5,317.0 463.0,316.2 463.5,317.5 464.0,318.0 464.5,318.0 465.0,317.4 465.5,317.2 465.9,317.4 466.0,317.4 466.5,314.9 467.0,311.2 467.1,310.8 467.5,307.1 468.0,297.6 468.3,291.9 468.5,288.3 469.0,278.4 469.5,269.9 470.0,266.1 470.1,266.1 470.5,269.0 471.0,278.4 471.3,284.8 471.5,291.1 472.0,309.6 472.1,311.0 472.5,312.8 473.0,314.4 473.1,314.4 473.5,315.7 474.0,319.1 474.5,318.0 475.0,316.4 475.5,316.9 476.0,317.5 476.5,318.1 476.7,317.9 477.0,317.5 477.5,317.8 478.0,319.2 478.5,318.6 479.0,318.0 479.5,319.4 480.0,319.0 480.4,317.6 480.5,317.2 481.0,317.7 481.5,316.1 482.0,312.9 482.5,309.9 483.0,306.7 483.5,304.8 484.0,310.2 484.5,317.6 484.6,318.2 485.0,319.5 485.5,320.7 486.0,321.3 486.4,320.8 486.5,320.6 487.0,320.0 487.5,321.5 488.0,321.3 488.5,320.0 489.0,320.8 489.5,321.3 490.0,321.0 490.5,321.5 491.0,321.9 491.2,321.7 491.5,321.4 492.0,321.7 492.5,322.3 493.0,321.9 493.5,321.5 494.0,321.4 494.5,322.6 495.0,323.8 495.5,323.7 496.0,323.7 496.5,323.9 497.0,324.4 497.5,324.2 498.0,323.0 498.5,324.1 499.0,325.1 499.5,324.0 500.0,324.2 500.5,325.4 501.0,325.3 501.5,325.4 502.0,325.9 502.5,326.4 503.0,326.8 503.5,326.5 504.0,326.1 504.5,325.7 505.0,327.2 505.5,328.2 506.0,328.5 506.5,328.5 506.6,328.5 507.0,328.4 507.5,328.9 508.0,328.0 508.5,326.2 509.0,327.7 509.5,328.6 510.0,328.6 510.5,327.8 511.0,327.2 511.5,328.8 512.0,329.5 512.5,329.6 513.0,328.7 513.5,328.5 514.0,329.1 514.5,329.9 515.0,330.6 515.5,331.2 516.0,331.5 516.5,331.8 517.0,330.7 517.5,330.1 518.0,330.3 518.5,330.8 519.0,331.3 519.5,331.8 520.0,331.9 520.5,331.7 521.0,332.1 521.5,332.7 522.0,333.4 522.5,333.7 523.0,333.7 523.5,333.5 524.0,333.0 524.5,332.2 525.0,332.8 525.5,333.5 526.0,334.4 526.5,334.8 527.0,335.1 527.5,335.4 528.0,334.7 528.5,333.3 528.6,333.4 529.0,333.8 529.5,334.0 530.0,333.6 530.5,332.6 531.0,332.0 531.5,333.4 532.0,333.7 532.5,333.4 533.0,335.6 533.5,336.8 534.0,336.3 534.5,335.6 535.0,335.2 535.5,335.8 536.0,336.2 536.5,336.5 537.0,337.5 537.5,337.9 538.0,337.3 538.5,337.7 539.0,338.0 539.5,337.4 540.0,337.6 540.5,338.2 541.0,338.4 541.5,338.4 542.0,338.1 542.5,337.6 543.0,337.4 543.5,338.2 544.0,337.9 544.5,337.0 545.0,338.3 545.5,338.7 546.0,337.6 546.5,337.2 547.0,337.4 547.5,339.2 548.0,339.1 548.5,337.5 549.0,338.0 549.5,338.0 550.0,337.2 550.5,337.3 551.0,337.6 551.5,338.0 552.0,337.9 552.5,337.5 553.0,339.1 553.5,339.5 554.0,338.2 554.5,337.7 555.0,337.8 555.5,339.5 556.0,340.1 556.5,339.9 557.0,337.9 557.5,337.2 558.0,338.4 558.5,339.6 559.0,340.3 559.5,339.1 560.0,338.9 560.5,339.3 561.0,339.4 561.5,339.0 562.0,337.6 562.5,338.2 563.0,339.2 563.5,340.4 564.0,341.2 564.5,341.7 565.0,340.8 565.5,340.2 566.0,340.2 566.5,340.6 567.0,341.0 567.5,340.8 568.0,340.9 568.5,341.2 569.0,340.3 569.5,340.0 570.0,340.7 570.5,341.2 571.0,341.5 571.5,341.6 572.0,340.8 572.5,339.4 573.0,341.1 573.5,341.9 574.0,341.5 574.5,341.5 575.0,341.3 575.5,340.0 576.0,340.3 576.5,341.6 577.0,340.5 577.5,339.6 578.0,339.0 578.5,340.4 579.0,341.9 579.5,341.9 580.0,341.9 580.5,342.0 581.0,342.1 581.5,342.2 582.0,342.1 582.5,342.8 583.0,343.4 583.5,343.2 584.0,343.6 584.5,344.2 585.0,344.8 585.5,344.8 586.0,343.6 586.5,343.5 587.0,343.7 587.5,344.5 588.0,343.7 588.5,341.9 589.0,342.3 589.5,342.7 590.0,343.2 590.5,342.3 591.0,341.7 591.5,343.5 592.0,344.5 592.5,345.0 593.0,343.1 593.5,342.1 594.0,342.5 594.5,343.5 595.0,344.6 595.5,345.0 596.0,343.9 596.5,341.9 597.0,343.5 597.5,344.2 598.0,343.8 598.5,342.8 599.0,342.2 599.5,343.2 600.0,343.6 600.5,343.5 601.0,344.1 601.5,344.4 602.0,344.4 602.5,344.3 603.0,344.2 603.5,344.3 604.0,344.4 604.5,344.5 605.0,345.0 605.5,345.4 606.0,345.8 606.5,345.9 607.0,345.7 607.5,344.5 608.0,344.1 608.5,344.2 609.0,344.4 609.5,345.1 610.0,346.6 610.5,346.4 611.0,345.8 611.5,345.0 612.0,344.5 612.5,344.3 613.0,344.5 613.5,344.9 614.0,345.6 614.5,345.2 615.0,344.8 615.5,345.6" fill="none" stroke="#1010ee" stroke-width="2.4" stroke-linejoin="round" clip-path="url(#cb3)"/>
<polyline points="330.5,435.0 331.0,434.4 331.5,435.0 332.0,436.2 332.5,436.5 333.0,436.1 333.5,435.1 334.0,433.8 334.5,433.2 335.0,433.1 335.5,433.7 336.0,434.3 336.5,434.0 337.0,432.7 337.5,432.4 338.0,434.8 338.5,432.4 339.0,432.6 339.5,434.6 340.0,434.9 340.5,432.6 341.0,432.3 341.5,432.7 342.0,434.3 342.5,435.2 343.0,433.6 343.5,430.6 344.0,433.0 344.5,435.4 345.0,436.3 345.5,436.0 346.0,435.2 346.5,433.7 347.0,430.9 347.5,433.1 348.0,434.0 348.5,433.8 349.0,434.6 349.5,437.0 350.0,434.7 350.5,434.3 351.0,434.7 351.5,434.4 352.0,433.0 352.5,432.3 352.8,432.2 353.0,432.1 353.5,434.0 354.0,434.7 354.5,433.6 355.0,432.7 355.5,435.3 356.0,433.5 356.5,430.9 357.0,431.7 357.5,432.9 358.0,431.3 358.5,429.0 359.0,431.9 359.5,431.1 360.0,430.2 360.5,430.6 361.0,430.7 361.5,425.6 362.0,427.0 362.5,428.3 363.0,429.3 363.5,429.2 364.0,427.6 364.2,427.2 364.5,426.8 365.0,426.5 365.5,427.6 366.0,428.9 366.5,428.0 367.0,424.6 367.5,423.2 368.0,426.2 368.5,426.6 369.0,425.7 369.5,426.1 370.0,428.1 370.5,428.3 371.0,425.6 371.5,425.2 372.0,426.2 372.5,426.3 373.0,424.3 373.5,422.3 374.0,424.5 374.5,423.6 375.0,424.1 375.5,424.7 375.7,424.0 376.0,423.4 376.5,423.8 377.0,424.9 377.5,424.0 378.0,422.7 378.5,421.7 379.0,421.9 379.5,426.8 380.0,425.4 380.5,421.1 381.0,419.4 381.5,420.9 382.0,422.7 382.5,420.3 383.0,421.3 383.5,422.5 384.0,422.1 384.5,421.0 385.0,420.2 385.5,419.4 386.0,419.9 386.5,420.6 387.0,422.4 387.1,422.9 387.5,423.2 388.0,421.6 388.5,419.0 389.0,421.0 389.5,420.0 390.0,417.4 390.5,416.5 391.0,418.9 391.5,420.9 392.0,417.6 392.5,419.3 393.0,418.9 393.5,417.5 394.0,417.4 394.5,414.9 395.0,421.2 395.5,419.8 396.0,419.0 396.5,418.4 397.0,415.5 397.5,413.4 398.0,418.5 398.5,416.3 399.0,417.4 399.5,418.6 400.0,416.3 400.5,419.7 401.0,414.8 401.5,412.1 402.0,414.0 402.5,416.2 403.0,414.8 403.5,414.7 404.0,416.7 404.5,413.8 405.0,411.6 405.5,411.0 406.0,410.7 406.5,409.5 407.0,409.0 407.5,409.6 408.0,410.2 408.5,410.7 409.0,411.0 409.5,409.2 409.9,410.8 410.0,411.1 410.5,412.8 411.0,412.0 411.5,411.0 412.0,411.2 412.5,408.1 413.0,410.3 413.5,410.7 414.0,409.1 414.5,406.6 415.0,405.3 415.5,407.8 416.0,407.7 416.5,409.8 417.0,408.3 417.5,407.3 418.0,408.7 418.5,399.7 419.0,403.7 419.5,403.9 420.0,403.5 420.5,403.1 421.0,402.6 421.3,403.0 421.5,403.2 422.0,406.5 422.5,403.7 423.0,403.5 423.5,403.7 424.0,401.1 424.5,401.1 425.0,395.2 425.5,398.0 426.0,400.4 426.5,399.1 427.0,395.8 427.5,396.5 428.0,395.5 428.5,400.3 429.0,398.3 429.5,393.8 430.0,392.9 430.5,387.8 431.0,389.9 431.5,393.2 432.0,392.3 432.5,388.4 432.7,386.8 433.0,386.3 433.5,391.5 434.0,391.9 434.5,391.9 435.0,391.7 435.5,390.4 436.0,389.7 436.5,397.3 437.0,388.7 437.5,388.5 438.0,386.5 438.5,384.1 439.0,384.3 439.5,381.6 440.0,385.3 440.5,384.4 441.0,382.3 441.5,379.8 442.0,378.5 442.5,384.2 443.0,384.3 443.5,383.8 444.0,381.8 444.2,380.7 444.5,380.6 445.0,381.6 445.5,381.4 446.0,379.6 446.5,380.5 447.0,378.1 447.5,375.2 448.0,374.2 448.5,368.9 449.0,377.7 449.5,372.8 450.0,370.8 450.5,372.2 451.0,371.5 451.5,367.1 452.0,368.7 452.5,370.2 453.0,369.2 453.5,367.3 454.0,366.3 454.5,365.9 455.0,364.4 455.5,365.0 456.0,366.1 456.5,366.8 457.0,367.0 457.5,368.5 457.9,366.0 458.0,365.4 458.5,363.3 459.0,364.8 459.5,366.3 460.0,365.3 460.5,366.9 461.0,364.5 461.5,364.6 462.0,364.6 462.5,364.5 463.0,364.2 463.5,359.2 464.0,361.5 464.5,362.5 465.0,365.4 465.5,365.9 466.0,362.1 466.5,363.6 467.0,361.7 467.5,357.1 468.0,360.6 468.5,365.6 469.0,364.7 469.5,366.3 470.0,358.9 470.5,361.2 471.0,363.0 471.5,360.8 472.0,358.1 472.5,363.9 473.0,360.9 473.5,362.9 474.0,360.5 474.5,357.8 475.0,359.8 475.5,360.4 476.0,358.3 476.5,361.6 477.0,365.8 477.5,366.7 478.0,364.4 478.5,366.6 479.0,369.4 479.5,368.2 480.0,366.0 480.5,363.1 481.0,361.3 481.4,366.6 481.5,367.9 482.0,366.4 482.5,366.1 483.0,368.2 483.5,370.3 484.0,369.1 484.5,363.7 485.0,369.0 485.5,369.1 486.0,370.8 486.5,372.1 487.0,371.1 487.5,374.0 488.0,370.1 488.5,370.2 489.0,370.7 489.5,371.2 490.0,372.3 490.5,372.6 491.0,376.7 491.5,373.3 492.0,373.1 492.5,373.8 492.8,372.1 493.0,371.5 493.5,371.2 494.0,373.8 494.5,372.8 495.0,374.9 495.5,377.0 496.0,375.6 496.5,376.6 497.0,379.6 497.5,382.8 498.0,381.2 498.5,377.0 499.0,375.3 499.5,379.7 500.0,381.2 500.5,384.1 501.0,383.9 501.5,381.7 502.0,381.4 502.5,386.3 503.0,387.2 503.5,385.1 504.0,385.0 504.2,385.6 504.5,386.2 505.0,387.8 505.5,393.6 506.0,386.2 506.5,385.4 507.0,386.4 507.5,388.1 508.0,389.5 508.5,387.4 509.0,389.7 509.5,391.2 510.0,393.5 510.5,393.4 511.0,389.6 511.5,389.6 512.0,389.9 512.5,387.3 513.0,387.2 513.5,389.8 514.0,392.7 514.5,393.1 515.0,399.2 515.5,398.2 515.7,397.1 516.0,396.7 516.5,397.0 517.0,397.8 517.5,393.3 518.0,393.9 518.5,394.1 519.0,395.1 519.5,398.5 520.0,402.1 520.5,397.0 521.0,396.6 521.5,398.1 522.0,400.3 522.5,401.5 523.0,401.4 523.5,402.7 524.0,398.6 524.5,398.7 525.0,400.3 525.5,401.8 526.0,403.4 526.5,406.5 527.0,401.2 527.1,400.1 527.5,403.8 528.0,404.7 528.5,404.7 529.0,406.0 529.5,403.6 530.0,402.4 530.5,406.9 531.0,408.3 531.5,405.7 532.0,403.4 532.5,409.3 533.0,406.1 533.5,407.3 534.0,408.5 534.5,407.8 535.0,407.0 535.5,412.4 536.0,409.4 536.5,412.5 537.0,413.2 537.5,412.1 538.0,412.3 538.5,412.1 539.0,415.8 539.5,411.9 540.0,410.0 540.5,410.7 541.0,411.8 541.5,415.7 542.0,415.7 542.5,414.3 543.0,414.0 543.5,412.9 544.0,411.3 544.5,417.8 545.0,414.5 545.5,414.6 546.0,414.6 546.5,415.0 547.0,416.4 547.5,414.9 548.0,415.8 548.5,416.1 549.0,415.6 549.5,415.0 549.9,415.0 550.0,415.5 550.5,417.7 551.0,417.9 551.5,418.8 552.0,420.1 552.5,419.2 553.0,415.0 553.5,414.2 554.0,417.3 554.5,420.7 555.0,420.8 555.5,418.2 556.0,417.1 556.5,423.8 557.0,422.0 557.5,418.9 558.0,418.4 558.5,420.1 559.0,421.4 559.5,420.4 560.0,421.4 560.5,422.7 561.0,422.8 561.3,422.3 561.5,423.4 562.0,425.0 562.5,422.2 563.0,425.4 563.5,423.1 564.0,421.0 564.5,419.8 565.0,419.0 565.5,421.3 566.0,423.2 566.5,425.0 567.0,420.8 567.5,418.5 568.0,423.3 568.5,421.7 569.0,424.8 569.5,423.7 570.0,423.8 570.5,425.9 571.0,427.5 571.5,424.4 572.0,424.0 572.5,425.6 572.7,426.5 573.0,425.7 573.5,424.6 574.0,423.4 574.5,420.9 575.0,423.2 575.5,421.7 576.0,422.9 576.5,425.2 577.0,425.6 577.5,424.7 578.0,427.9 578.5,424.2 579.0,423.8 579.5,425.2 580.0,424.2 580.5,422.0 581.0,425.1 581.5,426.2 582.0,426.8 582.5,426.2 583.0,424.6 583.5,426.1 584.0,423.8 584.2,424.1 584.5,426.5 585.0,428.4 585.5,427.6 586.0,425.3 586.5,425.4 587.0,423.1 587.5,424.2 588.0,424.6 588.5,424.7 589.0,425.0 589.5,422.1 590.0,427.9 590.5,426.8 591.0,426.6 591.5,427.2 592.0,426.1 592.5,424.7 593.0,428.8 593.5,428.5 594.0,425.1 594.5,423.4 595.0,425.4 595.5,425.1 595.6,424.9 596.0,424.1 596.5,428.2 597.0,426.8 597.5,425.1 598.0,427.9 598.5,422.1 599.0,427.8 599.5,426.2 600.0,423.0 600.5,423.0 601.0,426.8 601.5,427.2 602.0,424.7 602.5,427.2 603.0,425.7 603.5,424.8 604.0,428.7 604.5,427.8 605.0,430.0 605.5,427.3 606.0,427.2 606.5,427.6 607.0,426.1 607.5,428.7 608.0,427.7 608.5,428.4 609.0,426.7 609.5,425.8 610.0,428.4 610.5,428.3 611.0,430.5 611.5,428.4 612.0,427.4 612.5,428.2 613.0,429.5 613.5,429.4 614.0,424.2 614.5,426.4 615.0,429.4 615.5,429.9" fill="none" stroke="#00f200" stroke-width="3.0" stroke-linejoin="round" clip-path="url(#cb4)"/>
<line x1="62.50" y1="0.00" x2="62.50" y2="3.00" stroke="#333" stroke-width="1.3"/>
<line x1="62.50" y1="87.50" x2="62.50" y2="84.50" stroke="#333" stroke-width="1.3"/>
<line x1="62.50" y1="175.00" x2="62.50" y2="172.00" stroke="#333" stroke-width="1.3"/>
<line x1="62.50" y1="262.50" x2="62.50" y2="259.50" stroke="#333" stroke-width="1.3"/>
<line x1="62.50" y1="350.00" x2="62.50" y2="347.00" stroke="#333" stroke-width="1.3"/>
<line x1="62.50" y1="437.50" x2="62.50" y2="434.50" stroke="#333" stroke-width="1.3"/>
<line x1="86.20" y1="0.00" x2="86.20" y2="5.00" stroke="#333" stroke-width="1.3"/>
<line x1="86.20" y1="87.50" x2="86.20" y2="82.50" stroke="#333" stroke-width="1.3"/>
<line x1="86.20" y1="175.00" x2="86.20" y2="170.00" stroke="#333" stroke-width="1.3"/>
<line x1="86.20" y1="262.50" x2="86.20" y2="257.50" stroke="#333" stroke-width="1.3"/>
<line x1="86.20" y1="350.00" x2="86.20" y2="345.00" stroke="#333" stroke-width="1.3"/>
<line x1="86.20" y1="437.50" x2="86.20" y2="432.50" stroke="#333" stroke-width="1.3"/>
<line x1="109.90" y1="0.00" x2="109.90" y2="3.00" stroke="#333" stroke-width="1.3"/>
<line x1="109.90" y1="87.50" x2="109.90" y2="84.50" stroke="#333" stroke-width="1.3"/>
<line x1="109.90" y1="175.00" x2="109.90" y2="172.00" stroke="#333" stroke-width="1.3"/>
<line x1="109.90" y1="262.50" x2="109.90" y2="259.50" stroke="#333" stroke-width="1.3"/>
<line x1="109.90" y1="350.00" x2="109.90" y2="347.00" stroke="#333" stroke-width="1.3"/>
<line x1="109.90" y1="437.50" x2="109.90" y2="434.50" stroke="#333" stroke-width="1.3"/>
<line x1="133.60" y1="0.00" x2="133.60" y2="5.00" stroke="#333" stroke-width="1.3"/>
<line x1="133.60" y1="87.50" x2="133.60" y2="82.50" stroke="#333" stroke-width="1.3"/>
<line x1="133.60" y1="175.00" x2="133.60" y2="170.00" stroke="#333" stroke-width="1.3"/>
<line x1="133.60" y1="262.50" x2="133.60" y2="257.50" stroke="#333" stroke-width="1.3"/>
<line x1="133.60" y1="350.00" x2="133.60" y2="345.00" stroke="#333" stroke-width="1.3"/>
<line x1="133.60" y1="437.50" x2="133.60" y2="432.50" stroke="#333" stroke-width="1.3"/>
<line x1="157.30" y1="0.00" x2="157.30" y2="3.00" stroke="#333" stroke-width="1.3"/>
<line x1="157.30" y1="87.50" x2="157.30" y2="84.50" stroke="#333" stroke-width="1.3"/>
<line x1="157.30" y1="175.00" x2="157.30" y2="172.00" stroke="#333" stroke-width="1.3"/>
<line x1="157.30" y1="262.50" x2="157.30" y2="259.50" stroke="#333" stroke-width="1.3"/>
<line x1="157.30" y1="350.00" x2="157.30" y2="347.00" stroke="#333" stroke-width="1.3"/>
<line x1="157.30" y1="437.50" x2="157.30" y2="434.50" stroke="#333" stroke-width="1.3"/>
<line x1="181.00" y1="0.00" x2="181.00" y2="5.00" stroke="#333" stroke-width="1.3"/>
<line x1="181.00" y1="87.50" x2="181.00" y2="82.50" stroke="#333" stroke-width="1.3"/>
<line x1="181.00" y1="175.00" x2="181.00" y2="170.00" stroke="#333" stroke-width="1.3"/>
<line x1="181.00" y1="262.50" x2="181.00" y2="257.50" stroke="#333" stroke-width="1.3"/>
<line x1="181.00" y1="350.00" x2="181.00" y2="345.00" stroke="#333" stroke-width="1.3"/>
<line x1="181.00" y1="437.50" x2="181.00" y2="432.50" stroke="#333" stroke-width="1.3"/>
<line x1="204.70" y1="0.00" x2="204.70" y2="3.00" stroke="#333" stroke-width="1.3"/>
<line x1="204.70" y1="87.50" x2="204.70" y2="84.50" stroke="#333" stroke-width="1.3"/>
<line x1="204.70" y1="175.00" x2="204.70" y2="172.00" stroke="#333" stroke-width="1.3"/>
<line x1="204.70" y1="262.50" x2="204.70" y2="259.50" stroke="#333" stroke-width="1.3"/>
<line x1="204.70" y1="350.00" x2="204.70" y2="347.00" stroke="#333" stroke-width="1.3"/>
<line x1="204.70" y1="437.50" x2="204.70" y2="434.50" stroke="#333" stroke-width="1.3"/>
<line x1="228.40" y1="0.00" x2="228.40" y2="5.00" stroke="#333" stroke-width="1.3"/>
<line x1="228.40" y1="87.50" x2="228.40" y2="82.50" stroke="#333" stroke-width="1.3"/>
<line x1="228.40" y1="175.00" x2="228.40" y2="170.00" stroke="#333" stroke-width="1.3"/>
<line x1="228.40" y1="262.50" x2="228.40" y2="257.50" stroke="#333" stroke-width="1.3"/>
<line x1="228.40" y1="350.00" x2="228.40" y2="345.00" stroke="#333" stroke-width="1.3"/>
<line x1="228.40" y1="437.50" x2="228.40" y2="432.50" stroke="#333" stroke-width="1.3"/>
<line x1="252.10" y1="0.00" x2="252.10" y2="3.00" stroke="#333" stroke-width="1.3"/>
<line x1="252.10" y1="87.50" x2="252.10" y2="84.50" stroke="#333" stroke-width="1.3"/>
<line x1="252.10" y1="175.00" x2="252.10" y2="172.00" stroke="#333" stroke-width="1.3"/>
<line x1="252.10" y1="262.50" x2="252.10" y2="259.50" stroke="#333" stroke-width="1.3"/>
<line x1="252.10" y1="350.00" x2="252.10" y2="347.00" stroke="#333" stroke-width="1.3"/>
<line x1="252.10" y1="437.50" x2="252.10" y2="434.50" stroke="#333" stroke-width="1.3"/>
<line x1="275.80" y1="0.00" x2="275.80" y2="5.00" stroke="#333" stroke-width="1.3"/>
<line x1="275.80" y1="87.50" x2="275.80" y2="82.50" stroke="#333" stroke-width="1.3"/>
<line x1="275.80" y1="175.00" x2="275.80" y2="170.00" stroke="#333" stroke-width="1.3"/>
<line x1="275.80" y1="262.50" x2="275.80" y2="257.50" stroke="#333" stroke-width="1.3"/>
<line x1="275.80" y1="350.00" x2="275.80" y2="345.00" stroke="#333" stroke-width="1.3"/>
<line x1="275.80" y1="437.50" x2="275.80" y2="432.50" stroke="#333" stroke-width="1.3"/>
<line x1="299.50" y1="0.00" x2="299.50" y2="3.00" stroke="#333" stroke-width="1.3"/>
<line x1="299.50" y1="87.50" x2="299.50" y2="84.50" stroke="#333" stroke-width="1.3"/>
<line x1="299.50" y1="175.00" x2="299.50" y2="172.00" stroke="#333" stroke-width="1.3"/>
<line x1="299.50" y1="262.50" x2="299.50" y2="259.50" stroke="#333" stroke-width="1.3"/>
<line x1="299.50" y1="350.00" x2="299.50" y2="347.00" stroke="#333" stroke-width="1.3"/>
<line x1="299.50" y1="437.50" x2="299.50" y2="434.50" stroke="#333" stroke-width="1.3"/>
<line x1="355.50" y1="0.00" x2="355.50" y2="3.00" stroke="#333" stroke-width="1.3"/>
<line x1="355.50" y1="87.50" x2="355.50" y2="84.50" stroke="#333" stroke-width="1.3"/>
<line x1="355.50" y1="175.00" x2="355.50" y2="172.00" stroke="#333" stroke-width="1.3"/>
<line x1="355.50" y1="262.50" x2="355.50" y2="259.50" stroke="#333" stroke-width="1.3"/>
<line x1="355.50" y1="350.00" x2="355.50" y2="347.00" stroke="#333" stroke-width="1.3"/>
<line x1="355.50" y1="437.50" x2="355.50" y2="434.50" stroke="#333" stroke-width="1.3"/>
<line x1="379.20" y1="0.00" x2="379.20" y2="5.00" stroke="#333" stroke-width="1.3"/>
<line x1="379.20" y1="87.50" x2="379.20" y2="82.50" stroke="#333" stroke-width="1.3"/>
<line x1="379.20" y1="175.00" x2="379.20" y2="170.00" stroke="#333" stroke-width="1.3"/>
<line x1="379.20" y1="262.50" x2="379.20" y2="257.50" stroke="#333" stroke-width="1.3"/>
<line x1="379.20" y1="350.00" x2="379.20" y2="345.00" stroke="#333" stroke-width="1.3"/>
<line x1="379.20" y1="437.50" x2="379.20" y2="432.50" stroke="#333" stroke-width="1.3"/>
<line x1="402.90" y1="0.00" x2="402.90" y2="3.00" stroke="#333" stroke-width="1.3"/>
<line x1="402.90" y1="87.50" x2="402.90" y2="84.50" stroke="#333" stroke-width="1.3"/>
<line x1="402.90" y1="175.00" x2="402.90" y2="172.00" stroke="#333" stroke-width="1.3"/>
<line x1="402.90" y1="262.50" x2="402.90" y2="259.50" stroke="#333" stroke-width="1.3"/>
<line x1="402.90" y1="350.00" x2="402.90" y2="347.00" stroke="#333" stroke-width="1.3"/>
<line x1="402.90" y1="437.50" x2="402.90" y2="434.50" stroke="#333" stroke-width="1.3"/>
<line x1="426.60" y1="0.00" x2="426.60" y2="5.00" stroke="#333" stroke-width="1.3"/>
<line x1="426.60" y1="87.50" x2="426.60" y2="82.50" stroke="#333" stroke-width="1.3"/>
<line x1="426.60" y1="175.00" x2="426.60" y2="170.00" stroke="#333" stroke-width="1.3"/>
<line x1="426.60" y1="262.50" x2="426.60" y2="257.50" stroke="#333" stroke-width="1.3"/>
<line x1="426.60" y1="350.00" x2="426.60" y2="345.00" stroke="#333" stroke-width="1.3"/>
<line x1="426.60" y1="437.50" x2="426.60" y2="432.50" stroke="#333" stroke-width="1.3"/>
<line x1="450.30" y1="0.00" x2="450.30" y2="3.00" stroke="#333" stroke-width="1.3"/>
<line x1="450.30" y1="87.50" x2="450.30" y2="84.50" stroke="#333" stroke-width="1.3"/>
<line x1="450.30" y1="175.00" x2="450.30" y2="172.00" stroke="#333" stroke-width="1.3"/>
<line x1="450.30" y1="262.50" x2="450.30" y2="259.50" stroke="#333" stroke-width="1.3"/>
<line x1="450.30" y1="350.00" x2="450.30" y2="347.00" stroke="#333" stroke-width="1.3"/>
<line x1="450.30" y1="437.50" x2="450.30" y2="434.50" stroke="#333" stroke-width="1.3"/>
<line x1="474.00" y1="0.00" x2="474.00" y2="5.00" stroke="#333" stroke-width="1.3"/>
<line x1="474.00" y1="87.50" x2="474.00" y2="82.50" stroke="#333" stroke-width="1.3"/>
<line x1="474.00" y1="175.00" x2="474.00" y2="170.00" stroke="#333" stroke-width="1.3"/>
<line x1="474.00" y1="262.50" x2="474.00" y2="257.50" stroke="#333" stroke-width="1.3"/>
<line x1="474.00" y1="350.00" x2="474.00" y2="345.00" stroke="#333" stroke-width="1.3"/>
<line x1="474.00" y1="437.50" x2="474.00" y2="432.50" stroke="#333" stroke-width="1.3"/>
<line x1="497.70" y1="0.00" x2="497.70" y2="3.00" stroke="#333" stroke-width="1.3"/>
<line x1="497.70" y1="87.50" x2="497.70" y2="84.50" stroke="#333" stroke-width="1.3"/>
<line x1="497.70" y1="175.00" x2="497.70" y2="172.00" stroke="#333" stroke-width="1.3"/>
<line x1="497.70" y1="262.50" x2="497.70" y2="259.50" stroke="#333" stroke-width="1.3"/>
<line x1="497.70" y1="350.00" x2="497.70" y2="347.00" stroke="#333" stroke-width="1.3"/>
<line x1="497.70" y1="437.50" x2="497.70" y2="434.50" stroke="#333" stroke-width="1.3"/>
<line x1="521.40" y1="0.00" x2="521.40" y2="5.00" stroke="#333" stroke-width="1.3"/>
<line x1="521.40" y1="87.50" x2="521.40" y2="82.50" stroke="#333" stroke-width="1.3"/>
<line x1="521.40" y1="175.00" x2="521.40" y2="170.00" stroke="#333" stroke-width="1.3"/>
<line x1="521.40" y1="262.50" x2="521.40" y2="257.50" stroke="#333" stroke-width="1.3"/>
<line x1="521.40" y1="350.00" x2="521.40" y2="345.00" stroke="#333" stroke-width="1.3"/>
<line x1="521.40" y1="437.50" x2="521.40" y2="432.50" stroke="#333" stroke-width="1.3"/>
<line x1="545.10" y1="0.00" x2="545.10" y2="3.00" stroke="#333" stroke-width="1.3"/>
<line x1="545.10" y1="87.50" x2="545.10" y2="84.50" stroke="#333" stroke-width="1.3"/>
<line x1="545.10" y1="175.00" x2="545.10" y2="172.00" stroke="#333" stroke-width="1.3"/>
<line x1="545.10" y1="262.50" x2="545.10" y2="259.50" stroke="#333" stroke-width="1.3"/>
<line x1="545.10" y1="350.00" x2="545.10" y2="347.00" stroke="#333" stroke-width="1.3"/>
<line x1="545.10" y1="437.50" x2="545.10" y2="434.50" stroke="#333" stroke-width="1.3"/>
<line x1="568.80" y1="0.00" x2="568.80" y2="5.00" stroke="#333" stroke-width="1.3"/>
<line x1="568.80" y1="87.50" x2="568.80" y2="82.50" stroke="#333" stroke-width="1.3"/>
<line x1="568.80" y1="175.00" x2="568.80" y2="170.00" stroke="#333" stroke-width="1.3"/>
<line x1="568.80" y1="262.50" x2="568.80" y2="257.50" stroke="#333" stroke-width="1.3"/>
<line x1="568.80" y1="350.00" x2="568.80" y2="345.00" stroke="#333" stroke-width="1.3"/>
<line x1="568.80" y1="437.50" x2="568.80" y2="432.50" stroke="#333" stroke-width="1.3"/>
<line x1="592.50" y1="0.00" x2="592.50" y2="3.00" stroke="#333" stroke-width="1.3"/>
<line x1="592.50" y1="87.50" x2="592.50" y2="84.50" stroke="#333" stroke-width="1.3"/>
<line x1="592.50" y1="175.00" x2="592.50" y2="172.00" stroke="#333" stroke-width="1.3"/>
<line x1="592.50" y1="262.50" x2="592.50" y2="259.50" stroke="#333" stroke-width="1.3"/>
<line x1="592.50" y1="350.00" x2="592.50" y2="347.00" stroke="#333" stroke-width="1.3"/>
<line x1="592.50" y1="437.50" x2="592.50" y2="434.50" stroke="#333" stroke-width="1.3"/>
<line x1="39.00" y1="2.20" x2="42.00" y2="2.20" stroke="#333" stroke-width="1.2"/>
<line x1="323.00" y1="2.20" x2="320.00" y2="2.20" stroke="#333" stroke-width="1.2"/>
<line x1="39.00" y1="12.40" x2="44.00" y2="12.40" stroke="#333" stroke-width="1.2"/>
<line x1="323.00" y1="12.40" x2="318.00" y2="12.40" stroke="#333" stroke-width="1.2"/>
<line x1="39.00" y1="22.60" x2="42.00" y2="22.60" stroke="#333" stroke-width="1.2"/>
<line x1="323.00" y1="22.60" x2="320.00" y2="22.60" stroke="#333" stroke-width="1.2"/>
<line x1="39.00" y1="32.80" x2="44.00" y2="32.80" stroke="#333" stroke-width="1.2"/>
<line x1="323.00" y1="32.80" x2="318.00" y2="32.80" stroke="#333" stroke-width="1.2"/>
<line x1="39.00" y1="43.00" x2="42.00" y2="43.00" stroke="#333" stroke-width="1.2"/>
<line x1="323.00" y1="43.00" x2="320.00" y2="43.00" stroke="#333" stroke-width="1.2"/>
<line x1="39.00" y1="53.20" x2="44.00" y2="53.20" stroke="#333" stroke-width="1.2"/>
<line x1="323.00" y1="53.20" x2="318.00" y2="53.20" stroke="#333" stroke-width="1.2"/>
<line x1="39.00" y1="63.40" x2="42.00" y2="63.40" stroke="#333" stroke-width="1.2"/>
<line x1="323.00" y1="63.40" x2="320.00" y2="63.40" stroke="#333" stroke-width="1.2"/>
<line x1="39.00" y1="73.60" x2="44.00" y2="73.60" stroke="#333" stroke-width="1.2"/>
<line x1="323.00" y1="73.60" x2="318.00" y2="73.60" stroke="#333" stroke-width="1.2"/>
<line x1="39.00" y1="83.80" x2="42.00" y2="83.80" stroke="#333" stroke-width="1.2"/>
<line x1="323.00" y1="83.80" x2="320.00" y2="83.80" stroke="#333" stroke-width="1.2"/>
<line x1="39.00" y1="98.50" x2="44.00" y2="98.50" stroke="#333" stroke-width="1.2"/>
<line x1="323.00" y1="98.50" x2="318.00" y2="98.50" stroke="#333" stroke-width="1.2"/>
<line x1="39.00" y1="112.00" x2="42.00" y2="112.00" stroke="#333" stroke-width="1.2"/>
<line x1="323.00" y1="112.00" x2="320.00" y2="112.00" stroke="#333" stroke-width="1.2"/>
<line x1="39.00" y1="125.50" x2="44.00" y2="125.50" stroke="#333" stroke-width="1.2"/>
<line x1="323.00" y1="125.50" x2="318.00" y2="125.50" stroke="#333" stroke-width="1.2"/>
<line x1="39.00" y1="139.00" x2="42.00" y2="139.00" stroke="#333" stroke-width="1.2"/>
<line x1="323.00" y1="139.00" x2="320.00" y2="139.00" stroke="#333" stroke-width="1.2"/>
<line x1="39.00" y1="152.50" x2="44.00" y2="152.50" stroke="#333" stroke-width="1.2"/>
<line x1="323.00" y1="152.50" x2="318.00" y2="152.50" stroke="#333" stroke-width="1.2"/>
<line x1="39.00" y1="166.00" x2="42.00" y2="166.00" stroke="#333" stroke-width="1.2"/>
<line x1="323.00" y1="166.00" x2="320.00" y2="166.00" stroke="#333" stroke-width="1.2"/>
<line x1="39.00" y1="182.70" x2="44.00" y2="182.70" stroke="#333" stroke-width="1.2"/>
<line x1="323.00" y1="182.70" x2="318.00" y2="182.70" stroke="#333" stroke-width="1.2"/>
<line x1="39.00" y1="191.70" x2="42.00" y2="191.70" stroke="#333" stroke-width="1.2"/>
<line x1="323.00" y1="191.70" x2="320.00" y2="191.70" stroke="#333" stroke-width="1.2"/>
<line x1="39.00" y1="200.70" x2="44.00" y2="200.70" stroke="#333" stroke-width="1.2"/>
<line x1="323.00" y1="200.70" x2="318.00" y2="200.70" stroke="#333" stroke-width="1.2"/>
<line x1="39.00" y1="209.70" x2="42.00" y2="209.70" stroke="#333" stroke-width="1.2"/>
<line x1="323.00" y1="209.70" x2="320.00" y2="209.70" stroke="#333" stroke-width="1.2"/>
<line x1="39.00" y1="218.70" x2="44.00" y2="218.70" stroke="#333" stroke-width="1.2"/>
<line x1="323.00" y1="218.70" x2="318.00" y2="218.70" stroke="#333" stroke-width="1.2"/>
<line x1="39.00" y1="227.70" x2="42.00" y2="227.70" stroke="#333" stroke-width="1.2"/>
<line x1="323.00" y1="227.70" x2="320.00" y2="227.70" stroke="#333" stroke-width="1.2"/>
<line x1="39.00" y1="236.70" x2="44.00" y2="236.70" stroke="#333" stroke-width="1.2"/>
<line x1="323.00" y1="236.70" x2="318.00" y2="236.70" stroke="#333" stroke-width="1.2"/>
<line x1="39.00" y1="245.70" x2="42.00" y2="245.70" stroke="#333" stroke-width="1.2"/>
<line x1="323.00" y1="245.70" x2="320.00" y2="245.70" stroke="#333" stroke-width="1.2"/>
<line x1="39.00" y1="254.70" x2="44.00" y2="254.70" stroke="#333" stroke-width="1.2"/>
<line x1="323.00" y1="254.70" x2="318.00" y2="254.70" stroke="#333" stroke-width="1.2"/>
<line x1="39.00" y1="267.80" x2="42.00" y2="267.80" stroke="#333" stroke-width="1.2"/>
<line x1="323.00" y1="267.80" x2="320.00" y2="267.80" stroke="#333" stroke-width="1.2"/>
<line x1="39.00" y1="277.90" x2="44.00" y2="277.90" stroke="#333" stroke-width="1.2"/>
<line x1="323.00" y1="277.90" x2="318.00" y2="277.90" stroke="#333" stroke-width="1.2"/>
<line x1="39.00" y1="288.00" x2="42.00" y2="288.00" stroke="#333" stroke-width="1.2"/>
<line x1="323.00" y1="288.00" x2="320.00" y2="288.00" stroke="#333" stroke-width="1.2"/>
<line x1="39.00" y1="298.10" x2="44.00" y2="298.10" stroke="#333" stroke-width="1.2"/>
<line x1="323.00" y1="298.10" x2="318.00" y2="298.10" stroke="#333" stroke-width="1.2"/>
<line x1="39.00" y1="308.20" x2="42.00" y2="308.20" stroke="#333" stroke-width="1.2"/>
<line x1="323.00" y1="308.20" x2="320.00" y2="308.20" stroke="#333" stroke-width="1.2"/>
<line x1="39.00" y1="318.30" x2="44.00" y2="318.30" stroke="#333" stroke-width="1.2"/>
<line x1="323.00" y1="318.30" x2="318.00" y2="318.30" stroke="#333" stroke-width="1.2"/>
<line x1="39.00" y1="328.40" x2="42.00" y2="328.40" stroke="#333" stroke-width="1.2"/>
<line x1="323.00" y1="328.40" x2="320.00" y2="328.40" stroke="#333" stroke-width="1.2"/>
<line x1="39.00" y1="338.50" x2="44.00" y2="338.50" stroke="#333" stroke-width="1.2"/>
<line x1="323.00" y1="338.50" x2="318.00" y2="338.50" stroke="#333" stroke-width="1.2"/>
<line x1="39.00" y1="364.40" x2="42.00" y2="364.40" stroke="#333" stroke-width="1.2"/>
<line x1="323.00" y1="364.40" x2="320.00" y2="364.40" stroke="#333" stroke-width="1.2"/>
<line x1="39.00" y1="377.90" x2="44.00" y2="377.90" stroke="#333" stroke-width="1.2"/>
<line x1="323.00" y1="377.90" x2="318.00" y2="377.90" stroke="#333" stroke-width="1.2"/>
<line x1="39.00" y1="391.40" x2="42.00" y2="391.40" stroke="#333" stroke-width="1.2"/>
<line x1="323.00" y1="391.40" x2="320.00" y2="391.40" stroke="#333" stroke-width="1.2"/>
<line x1="39.00" y1="404.90" x2="44.00" y2="404.90" stroke="#333" stroke-width="1.2"/>
<line x1="323.00" y1="404.90" x2="318.00" y2="404.90" stroke="#333" stroke-width="1.2"/>
<line x1="39.00" y1="418.40" x2="42.00" y2="418.40" stroke="#333" stroke-width="1.2"/>
<line x1="323.00" y1="418.40" x2="320.00" y2="418.40" stroke="#333" stroke-width="1.2"/>
<line x1="39.00" y1="431.90" x2="44.00" y2="431.90" stroke="#333" stroke-width="1.2"/>
<line x1="323.00" y1="431.90" x2="318.00" y2="431.90" stroke="#333" stroke-width="1.2"/>
<line x1="615.80" y1="10.50" x2="612.80" y2="10.50" stroke="#333" stroke-width="1.2"/>
<line x1="615.80" y1="23.45" x2="610.80" y2="23.45" stroke="#333" stroke-width="1.2"/>
<line x1="615.80" y1="36.40" x2="612.80" y2="36.40" stroke="#333" stroke-width="1.2"/>
<line x1="615.80" y1="49.35" x2="610.80" y2="49.35" stroke="#333" stroke-width="1.2"/>
<line x1="615.80" y1="62.30" x2="612.80" y2="62.30" stroke="#333" stroke-width="1.2"/>
<line x1="615.80" y1="75.25" x2="610.80" y2="75.25" stroke="#333" stroke-width="1.2"/>
<line x1="615.80" y1="93.50" x2="610.80" y2="93.50" stroke="#333" stroke-width="1.2"/>
<line x1="615.80" y1="103.00" x2="612.80" y2="103.00" stroke="#333" stroke-width="1.2"/>
<line x1="615.80" y1="112.50" x2="610.80" y2="112.50" stroke="#333" stroke-width="1.2"/>
<line x1="615.80" y1="122.00" x2="612.80" y2="122.00" stroke="#333" stroke-width="1.2"/>
<line x1="615.80" y1="131.50" x2="610.80" y2="131.50" stroke="#333" stroke-width="1.2"/>
<line x1="615.80" y1="141.00" x2="612.80" y2="141.00" stroke="#333" stroke-width="1.2"/>
<line x1="615.80" y1="150.50" x2="610.80" y2="150.50" stroke="#333" stroke-width="1.2"/>
<line x1="615.80" y1="160.00" x2="612.80" y2="160.00" stroke="#333" stroke-width="1.2"/>
<line x1="615.80" y1="169.50" x2="610.80" y2="169.50" stroke="#333" stroke-width="1.2"/>
<line x1="615.80" y1="178.20" x2="610.80" y2="178.20" stroke="#333" stroke-width="1.2"/>
<line x1="615.80" y1="189.10" x2="612.80" y2="189.10" stroke="#333" stroke-width="1.2"/>
<line x1="615.80" y1="200.00" x2="610.80" y2="200.00" stroke="#333" stroke-width="1.2"/>
<line x1="615.80" y1="210.90" x2="612.80" y2="210.90" stroke="#333" stroke-width="1.2"/>
<line x1="615.80" y1="221.80" x2="610.80" y2="221.80" stroke="#333" stroke-width="1.2"/>
<line x1="615.80" y1="232.70" x2="612.80" y2="232.70" stroke="#333" stroke-width="1.2"/>
<line x1="615.80" y1="243.60" x2="610.80" y2="243.60" stroke="#333" stroke-width="1.2"/>
<line x1="615.80" y1="254.50" x2="612.80" y2="254.50" stroke="#333" stroke-width="1.2"/>
<line x1="615.80" y1="268.70" x2="610.80" y2="268.70" stroke="#333" stroke-width="1.2"/>
<line x1="615.80" y1="276.34" x2="612.80" y2="276.34" stroke="#333" stroke-width="1.2"/>
<line x1="615.80" y1="283.98" x2="610.80" y2="283.98" stroke="#333" stroke-width="1.2"/>
<line x1="615.80" y1="291.62" x2="612.80" y2="291.62" stroke="#333" stroke-width="1.2"/>
<line x1="615.80" y1="299.26" x2="610.80" y2="299.26" stroke="#333" stroke-width="1.2"/>
<line x1="615.80" y1="306.90" x2="612.80" y2="306.90" stroke="#333" stroke-width="1.2"/>
<line x1="615.80" y1="314.54" x2="610.80" y2="314.54" stroke="#333" stroke-width="1.2"/>
<line x1="615.80" y1="322.18" x2="612.80" y2="322.18" stroke="#333" stroke-width="1.2"/>
<line x1="615.80" y1="329.82" x2="610.80" y2="329.82" stroke="#333" stroke-width="1.2"/>
<line x1="615.80" y1="337.46" x2="612.80" y2="337.46" stroke="#333" stroke-width="1.2"/>
<line x1="615.80" y1="345.10" x2="610.80" y2="345.10" stroke="#333" stroke-width="1.2"/>
<line x1="615.80" y1="364.60" x2="610.80" y2="364.60" stroke="#333" stroke-width="1.2"/>
<line x1="615.80" y1="372.74" x2="612.80" y2="372.74" stroke="#333" stroke-width="1.2"/>
<line x1="615.80" y1="380.88" x2="610.80" y2="380.88" stroke="#333" stroke-width="1.2"/>
<line x1="615.80" y1="389.02" x2="612.80" y2="389.02" stroke="#333" stroke-width="1.2"/>
<line x1="615.80" y1="397.16" x2="610.80" y2="397.16" stroke="#333" stroke-width="1.2"/>
<line x1="615.80" y1="405.30" x2="612.80" y2="405.30" stroke="#333" stroke-width="1.2"/>
<line x1="615.80" y1="413.44" x2="610.80" y2="413.44" stroke="#333" stroke-width="1.2"/>
<line x1="615.80" y1="421.58" x2="612.80" y2="421.58" stroke="#333" stroke-width="1.2"/>
<line x1="615.80" y1="429.72" x2="610.80" y2="429.72" stroke="#333" stroke-width="1.2"/>
<line x1="44.50" y1="13.30" x2="78.50" y2="13.30" stroke="#ec10ec" stroke-width="2.4"/>
<text transform="translate(81.05,18.30) scale(0.9398,1)" font-size="15.86" font-weight="normal" fill="#111" stroke="#111" stroke-width="0.32">270kW/cm</text>
<text transform="translate(151.26,10.70) scale(1.2077,1)" font-size="9.00" font-weight="normal" fill="#111" stroke="#111" stroke-width="0.18">2</text>
<line x1="335.50" y1="17.80" x2="370.00" y2="17.80" stroke="#848414" stroke-width="2.4"/>
<text transform="translate(373.01,22.60) scale(0.9550,1)" font-size="15.57" font-weight="normal" fill="#111" stroke="#111" stroke-width="0.31">300kW/cm</text>
<text transform="translate(442.22,14.90) scale(1.1349,1)" font-size="8.43" font-weight="normal" fill="#111" stroke="#111" stroke-width="0.17">2</text>
<line x1="44.50" y1="100.90" x2="78.50" y2="100.90" stroke="#1ee8e8" stroke-width="2.4"/>
<text transform="translate(82.25,105.70) scale(0.9687,1)" font-size="15.43" font-weight="normal" fill="#111" stroke="#111" stroke-width="0.31">240kW/cm</text>
<text transform="translate(152.84,98.60) scale(1.1019,1)" font-size="8.29" font-weight="normal" fill="#111" stroke="#111" stroke-width="0.17">2</text>
<line x1="335.50" y1="102.40" x2="370.00" y2="102.40" stroke="#ec10ec" stroke-width="2.4"/>
<text transform="translate(372.85,107.20) scale(1.0216,1)" font-size="14.71" font-weight="normal" fill="#111" stroke="#111" stroke-width="0.29">270kW/cm</text>
<text transform="translate(442.84,100.60) scale(1.1019,1)" font-size="8.29" font-weight="normal" fill="#111" stroke="#111" stroke-width="0.17">2</text>
<line x1="44.50" y1="188.50" x2="78.50" y2="188.50" stroke="#1010ee" stroke-width="2.4"/>
<text transform="translate(81.25,193.10) scale(0.9884,1)" font-size="15.14" font-weight="normal" fill="#111" stroke="#111" stroke-width="0.30">210kW/cm</text>
<text transform="translate(151.61,186.00) scale(1.1807,1)" font-size="8.29" font-weight="normal" fill="#111" stroke="#111" stroke-width="0.17">2</text>
<line x1="335.50" y1="190.20" x2="370.00" y2="190.20" stroke="#1ee8e8" stroke-width="2.4"/>
<text transform="translate(371.65,194.50) scale(1.0523,1)" font-size="14.29" font-weight="normal" fill="#111" stroke="#111" stroke-width="0.29">240kW/cm</text>
<text transform="translate(442.22,188.20) scale(1.1544,1)" font-size="8.29" font-weight="normal" fill="#111" stroke="#111" stroke-width="0.17">2</text>
<line x1="44.50" y1="276.20" x2="78.50" y2="276.20" stroke="#00f200" stroke-width="2.4"/>
<text transform="translate(82.82,280.50) scale(0.9622,1)" font-size="15.36" font-weight="normal" fill="#111" stroke="#111" stroke-width="0.31">180kW/cm</text>
<text transform="translate(152.05,273.60) scale(1.0757,1)" font-size="8.29" font-weight="normal" fill="#111" stroke="#111" stroke-width="0.17">2</text>
<line x1="335.50" y1="277.80" x2="370.00" y2="277.80" stroke="#1010ee" stroke-width="2.4"/>
<text transform="translate(373.25,282.50) scale(0.9687,1)" font-size="15.43" font-weight="normal" fill="#111" stroke="#111" stroke-width="0.31">210kW/cm</text>
<text transform="translate(442.82,275.50) scale(1.0976,1)" font-size="8.71" font-weight="normal" fill="#111" stroke="#111" stroke-width="0.17">2</text>
<line x1="44.50" y1="364.20" x2="78.50" y2="364.20" stroke="#fa0000" stroke-width="2.4"/>
<text transform="translate(84.32,369.40) scale(0.9490,1)" font-size="15.51" font-weight="normal" fill="#111" stroke="#111" stroke-width="0.31">150kW/cm</text>
<text transform="translate(153.25,361.50) scale(1.0228,1)" font-size="8.71" font-weight="normal" fill="#111" stroke="#111" stroke-width="0.17">2</text>
<line x1="335.50" y1="363.20" x2="370.00" y2="363.20" stroke="#00f200" stroke-width="2.4"/>
<text transform="translate(374.52,368.10) scale(0.9636,1)" font-size="15.36" font-weight="normal" fill="#111" stroke="#111" stroke-width="0.31">180kW/cm</text>
<text transform="translate(443.55,360.60) scale(1.0757,1)" font-size="8.29" font-weight="normal" fill="#111" stroke="#111" stroke-width="0.17">2</text>
<text transform="translate(41.76,47.60) scale(1.0352,1)" font-size="14.35" font-weight="bold" fill="#000" stroke="#000" stroke-width="0.29">Micro disk w/o slit</text>
<text transform="translate(331.06,46.60) scale(1.1396,1)" font-size="13.04" font-weight="bold" fill="#000" stroke="#000" stroke-width="0.26">Micro disk with slit</text>
<text transform="translate(40.57,426.10) scale(1.0195,1)" font-size="28.36" font-weight="normal" fill="#000" stroke="#000" stroke-width="0.00">(a)</text>
<text transform="translate(342.57,429.20) scale(1.0262,1)" font-size="28.08" font-weight="normal" fill="#000" stroke="#000" stroke-width="0.00">(b)</text>
<text transform="translate(9.26,458.30) scale(0.9000,1)" font-size="18.29" fill="#111" stroke="#111" stroke-width="0.37">360</text>
<text transform="translate(330.69,458.40) scale(0.9000,1)" font-size="17.71" fill="#111" stroke="#111" stroke-width="0.35">360</text>
<text transform="translate(56.68,458.30) scale(0.9000,1)" font-size="18.29" fill="#111" stroke="#111" stroke-width="0.37">365</text>
<text transform="translate(378.22,458.40) scale(0.9000,1)" font-size="17.71" fill="#111" stroke="#111" stroke-width="0.35">365</text>
<text transform="translate(104.10,458.30) scale(0.9000,1)" font-size="18.29" fill="#111" stroke="#111" stroke-width="0.37">370</text>
<text transform="translate(425.75,458.40) scale(0.9000,1)" font-size="17.71" fill="#111" stroke="#111" stroke-width="0.35">370</text>
<text transform="translate(151.52,458.30) scale(0.9000,1)" font-size="18.29" fill="#111" stroke="#111" stroke-width="0.37">375</text>
<text transform="translate(473.28,458.40) scale(0.9000,1)" font-size="17.71" fill="#111" stroke="#111" stroke-width="0.35">375</text>
<text transform="translate(198.94,458.30) scale(0.9000,1)" font-size="18.29" fill="#111" stroke="#111" stroke-width="0.37">380</text>
<text transform="translate(520.81,458.40) scale(0.9000,1)" font-size="17.71" fill="#111" stroke="#111" stroke-width="0.35">380</text>
<text transform="translate(246.36,458.30) scale(0.9000,1)" font-size="18.29" fill="#111" stroke="#111" stroke-width="0.37">385</text>
<text transform="translate(568.34,458.40) scale(0.9000,1)" font-size="17.71" fill="#111" stroke="#111" stroke-width="0.35">385</text>
<text transform="translate(293.78,458.30) scale(0.9000,1)" font-size="18.29" fill="#111" stroke="#111" stroke-width="0.37">390</text>
<text transform="translate(615.87,458.40) scale(0.9000,1)" font-size="17.71" fill="#111" stroke="#111" stroke-width="0.35">390</text>
<text transform="translate(94.08,480.40) scale(0.9976,1)" font-size="21.74" font-weight="normal" fill="#111" stroke="#111" stroke-width="0.00">Wavelength(nm)</text>
<text transform="translate(396.78,478.80) scale(0.9784,1)" font-size="22.46" font-weight="normal" fill="#111" stroke="#111" stroke-width="0.00">Wavelength(nm)</text>
<text transform="translate(24.00,284.59) rotate(-90) scale(0.9880,1)" font-size="22.40" fill="#111" stroke="#111" stroke-width="0.00">Intensity(a.u.)</text>
<line x1="44.00" y1="496.40" x2="44.00" y2="704.80" stroke="#6c6c6c" stroke-width="1.8"/>
<line x1="327.20" y1="496.40" x2="327.20" y2="704.80" stroke="#6c6c6c" stroke-width="1.8"/>
<line x1="44.00" y1="496.50" x2="327.20" y2="496.50" stroke="#333" stroke-width="1.3"/>
<line x1="44.00" y1="704.30" x2="327.20" y2="704.30" stroke="#888" stroke-width="1.2"/>
<line x1="44.00" y1="683.45" x2="47.00" y2="683.45" stroke="#333" stroke-width="1.2"/>
<line x1="44.00" y1="662.90" x2="49.00" y2="662.90" stroke="#333" stroke-width="1.2"/>
<line x1="44.00" y1="642.35" x2="47.00" y2="642.35" stroke="#333" stroke-width="1.2"/>
<line x1="44.00" y1="621.80" x2="49.00" y2="621.80" stroke="#333" stroke-width="1.2"/>
<line x1="44.00" y1="601.25" x2="47.00" y2="601.25" stroke="#333" stroke-width="1.2"/>
<line x1="44.00" y1="580.70" x2="49.00" y2="580.70" stroke="#333" stroke-width="1.2"/>
<line x1="44.00" y1="560.15" x2="47.00" y2="560.15" stroke="#333" stroke-width="1.2"/>
<line x1="44.00" y1="539.60" x2="49.00" y2="539.60" stroke="#333" stroke-width="1.2"/>
<line x1="44.00" y1="519.05" x2="47.00" y2="519.05" stroke="#333" stroke-width="1.2"/>
<line x1="44.00" y1="498.50" x2="49.00" y2="498.50" stroke="#333" stroke-width="1.2"/>
<line x1="61.00" y1="704.20" x2="61.00" y2="701.20" stroke="#333" stroke-width="1.2"/>
<line x1="77.61" y1="704.20" x2="77.61" y2="699.20" stroke="#333" stroke-width="1.2"/>
<line x1="94.22" y1="704.20" x2="94.22" y2="701.20" stroke="#333" stroke-width="1.2"/>
<line x1="110.82" y1="704.20" x2="110.82" y2="699.20" stroke="#333" stroke-width="1.2"/>
<line x1="127.43" y1="704.20" x2="127.43" y2="701.20" stroke="#333" stroke-width="1.2"/>
<line x1="144.03" y1="704.20" x2="144.03" y2="699.20" stroke="#333" stroke-width="1.2"/>
<line x1="160.63" y1="704.20" x2="160.63" y2="701.20" stroke="#333" stroke-width="1.2"/>
<line x1="177.24" y1="704.20" x2="177.24" y2="699.20" stroke="#333" stroke-width="1.2"/>
<line x1="193.85" y1="704.20" x2="193.85" y2="701.20" stroke="#333" stroke-width="1.2"/>
<line x1="210.45" y1="704.20" x2="210.45" y2="699.20" stroke="#333" stroke-width="1.2"/>
<line x1="227.06" y1="704.20" x2="227.06" y2="701.20" stroke="#333" stroke-width="1.2"/>
<line x1="243.66" y1="704.20" x2="243.66" y2="699.20" stroke="#333" stroke-width="1.2"/>
<line x1="260.26" y1="704.20" x2="260.26" y2="701.20" stroke="#333" stroke-width="1.2"/>
<line x1="276.87" y1="704.20" x2="276.87" y2="699.20" stroke="#333" stroke-width="1.2"/>
<line x1="293.48" y1="704.20" x2="293.48" y2="701.20" stroke="#333" stroke-width="1.2"/>
<line x1="310.08" y1="704.20" x2="310.08" y2="699.20" stroke="#333" stroke-width="1.2"/>
<line x1="326.69" y1="704.20" x2="326.69" y2="701.20" stroke="#333" stroke-width="1.2"/>
<text transform="translate(32.77,708.65) scale(0.9300,1)" font-size="13.30" fill="#111" stroke="#111" stroke-width="0.11">0</text>
<text transform="translate(19.04,667.55) scale(0.9300,1)" font-size="13.30" fill="#111" stroke="#111" stroke-width="0.11">200</text>
<text transform="translate(19.04,626.39) scale(0.9300,1)" font-size="13.30" fill="#111" stroke="#111" stroke-width="0.11">400</text>
<text transform="translate(19.04,585.36) scale(0.9300,1)" font-size="13.30" fill="#111" stroke="#111" stroke-width="0.11">600</text>
<text transform="translate(19.04,544.25) scale(0.9300,1)" font-size="13.30" fill="#111" stroke="#111" stroke-width="0.11">800</text>
<text transform="translate(12.24,503.09) scale(0.9300,1)" font-size="13.30" fill="#111" stroke="#111" stroke-width="0.11">1000</text>
<text transform="translate(33.25,719.40) scale(1.0000,1)" font-size="13.04" fill="#111" stroke="#111" stroke-width="0.10">140</text>
<text transform="translate(66.46,719.40) scale(1.0000,1)" font-size="13.04" fill="#111" stroke="#111" stroke-width="0.10">160</text>
<text transform="translate(99.67,719.40) scale(1.0000,1)" font-size="13.04" fill="#111" stroke="#111" stroke-width="0.10">180</text>
<text transform="translate(133.23,719.40) scale(1.0000,1)" font-size="12.86" fill="#111" stroke="#111" stroke-width="0.10">200</text>
<text transform="translate(166.44,719.40) scale(1.0000,1)" font-size="12.86" fill="#111" stroke="#111" stroke-width="0.10">220</text>
<text transform="translate(199.65,719.40) scale(1.0000,1)" font-size="12.86" fill="#111" stroke="#111" stroke-width="0.10">240</text>
<text transform="translate(232.86,719.40) scale(1.0000,1)" font-size="12.86" fill="#111" stroke="#111" stroke-width="0.10">260</text>
<text transform="translate(266.07,719.40) scale(1.0000,1)" font-size="12.86" fill="#111" stroke="#111" stroke-width="0.10">280</text>
<text transform="translate(299.34,719.40) scale(1.0000,1)" font-size="12.86" fill="#111" stroke="#111" stroke-width="0.10">300</text>
<text transform="translate(12.90,652.21) rotate(-90) scale(0.9842,1)" font-size="18.20" fill="#111" stroke="#111" stroke-width="0.15">Intensity (a.u.)</text>
<text transform="translate(62.78,740.90) scale(1.0039,1)" font-size="17.68" font-weight="normal" fill="#111" stroke="#111" stroke-width="0.14">Excited power density (kW/cm</text>
<text transform="translate(300.12,731.40) scale(1.2038,1)" font-size="9.57" font-weight="normal" fill="#111" stroke="#111" stroke-width="0.08">2</text>
<text transform="translate(306.80,740.95) scale(1.1190,1)" font-size="17.87" fill="#111" stroke="#111" stroke-width="0.14">)</text>
<polyline points="61.0,691.7 110.8,687.6 160.6,609.5 210.5,579.7 260.3,535.5 310.1,498.5" fill="none" stroke="#20dd20" stroke-width="1.6"/>
<polyline points="61.0,699.9 110.8,697.4 160.6,694.8 210.5,666.0 260.3,652.6 310.1,637.2" fill="none" stroke="#1010e6" stroke-width="1.6"/>
<rect x="57.1" y="687.8" width="7.8" height="7.8" fill="#00f000"/>
<rect x="106.9" y="683.7" width="7.8" height="7.8" fill="#00f000"/>
<rect x="156.7" y="605.6" width="7.8" height="7.8" fill="#00f000"/>
<rect x="206.6" y="575.8" width="7.8" height="7.8" fill="#00f000"/>
<rect x="256.4" y="531.6" width="7.8" height="7.8" fill="#00f000"/>
<rect x="306.2" y="494.6" width="7.8" height="7.8" fill="#00f000"/>
<circle cx="61.0" cy="699.9" r="4.3" fill="#1010e6"/>
<circle cx="110.8" cy="697.4" r="4.3" fill="#1010e6"/>
<circle cx="160.6" cy="694.8" r="4.3" fill="#1010e6"/>
<circle cx="210.5" cy="666.0" r="4.3" fill="#1010e6"/>
<circle cx="260.3" cy="652.6" r="4.3" fill="#1010e6"/>
<circle cx="310.1" cy="637.2" r="4.3" fill="#1010e6"/>
<line x1="49.00" y1="508.70" x2="85.70" y2="508.70" stroke="#20dd20" stroke-width="1.6"/>
<rect x="63.8" y="504.8" width="7.8" height="7.8" fill="#00f000"/>
<line x1="49.00" y1="527.30" x2="85.70" y2="527.30" stroke="#1010e6" stroke-width="1.6"/>
<circle cx="67.7" cy="527.3" r="4.6" fill="#1010e6"/>
<text transform="translate(89.44,513.80) scale(1.0151,1)" font-size="15.51" font-weight="normal" fill="#111" stroke="#111" stroke-width="0.12">Micro disk w/o slit</text>
<text transform="translate(89.44,533.10) scale(1.0381,1)" font-size="15.22" font-weight="normal" fill="#111" stroke="#111" stroke-width="0.12">Micro disk with slit</text>
<text transform="translate(41.36,690.50) scale(1.0306,1)" font-size="28.08" font-weight="normal" fill="#000" stroke="#000" stroke-width="0.00">(c)</text>
<line x1="335.00" y1="494.90" x2="335.00" y2="704.30" stroke="#6c6c6c" stroke-width="1.8"/>
<line x1="617.50" y1="494.90" x2="617.50" y2="704.30" stroke="#6c6c6c" stroke-width="1.8"/>
<line x1="335.00" y1="495.40" x2="617.50" y2="495.40" stroke="#333" stroke-width="1.3"/>
<line x1="335.00" y1="703.80" x2="617.50" y2="703.80" stroke="#555" stroke-width="1.4"/>
<line x1="354.70" y1="703.70" x2="354.70" y2="698.70" stroke="#333" stroke-width="1.2"/>
<line x1="374.90" y1="703.70" x2="374.90" y2="700.70" stroke="#333" stroke-width="1.2"/>
<line x1="395.10" y1="703.70" x2="395.10" y2="698.70" stroke="#333" stroke-width="1.2"/>
<line x1="415.30" y1="703.70" x2="415.30" y2="700.70" stroke="#333" stroke-width="1.2"/>
<line x1="435.50" y1="703.70" x2="435.50" y2="698.70" stroke="#333" stroke-width="1.2"/>
<line x1="455.70" y1="703.70" x2="455.70" y2="700.70" stroke="#333" stroke-width="1.2"/>
<line x1="475.90" y1="703.70" x2="475.90" y2="698.70" stroke="#333" stroke-width="1.2"/>
<line x1="496.10" y1="703.70" x2="496.10" y2="700.70" stroke="#333" stroke-width="1.2"/>
<line x1="516.30" y1="703.70" x2="516.30" y2="698.70" stroke="#333" stroke-width="1.2"/>
<line x1="536.50" y1="703.70" x2="536.50" y2="700.70" stroke="#333" stroke-width="1.2"/>
<line x1="556.70" y1="703.70" x2="556.70" y2="698.70" stroke="#333" stroke-width="1.2"/>
<line x1="576.90" y1="703.70" x2="576.90" y2="700.70" stroke="#333" stroke-width="1.2"/>
<line x1="597.10" y1="703.70" x2="597.10" y2="698.70" stroke="#333" stroke-width="1.2"/>
<line x1="617.50" y1="673.60" x2="613.00" y2="673.60" stroke="#333" stroke-width="1.2"/>
<line x1="617.50" y1="643.92" x2="615.00" y2="643.92" stroke="#333" stroke-width="1.2"/>
<line x1="617.50" y1="614.23" x2="613.00" y2="614.23" stroke="#333" stroke-width="1.2"/>
<line x1="617.50" y1="584.55" x2="615.00" y2="584.55" stroke="#333" stroke-width="1.2"/>
<line x1="617.50" y1="554.86" x2="613.00" y2="554.86" stroke="#333" stroke-width="1.2"/>
<line x1="617.50" y1="525.17" x2="615.00" y2="525.17" stroke="#333" stroke-width="1.2"/>
<text transform="translate(621.26,678.01) scale(1.0800,1)" font-size="12.60" fill="#111" stroke="#111" stroke-width="0.10">0.2</text>
<text transform="translate(621.26,618.64) scale(1.0800,1)" font-size="12.60" fill="#111" stroke="#111" stroke-width="0.10">0.3</text>
<text transform="translate(621.26,559.27) scale(1.0800,1)" font-size="12.60" fill="#111" stroke="#111" stroke-width="0.10">0.4</text>
<text transform="translate(621.26,499.90) scale(1.0800,1)" font-size="12.60" fill="#111" stroke="#111" stroke-width="0.10">0.5</text>
<text transform="translate(343.92,719.30) scale(1.0000,1)" font-size="12.61" fill="#111" stroke="#111" stroke-width="0.10">180</text>
<text transform="translate(384.66,719.30) scale(1.0000,1)" font-size="12.43" fill="#111" stroke="#111" stroke-width="0.10">200</text>
<text transform="translate(425.06,719.30) scale(1.0000,1)" font-size="12.43" fill="#111" stroke="#111" stroke-width="0.10">220</text>
<text transform="translate(465.46,719.30) scale(1.0000,1)" font-size="12.43" fill="#111" stroke="#111" stroke-width="0.10">240</text>
<text transform="translate(505.86,719.30) scale(1.0000,1)" font-size="12.43" fill="#111" stroke="#111" stroke-width="0.10">260</text>
<text transform="translate(546.26,719.30) scale(1.0000,1)" font-size="12.43" fill="#111" stroke="#111" stroke-width="0.10">280</text>
<text transform="translate(586.72,719.30) scale(1.0000,1)" font-size="12.43" fill="#111" stroke="#111" stroke-width="0.10">300</text>
<text transform="translate(652.60,630.81) rotate(-90) scale(0.9915,1)" font-size="17.80" fill="#111" stroke="#111" stroke-width="0.14">FWHM(nm)</text>
<text transform="translate(360.77,737.80) scale(1.0174,1)" font-size="17.54" font-weight="normal" fill="#111" stroke="#111" stroke-width="0.14">Excited power density (kW/cm</text>
<text transform="translate(598.46,728.40) scale(1.1706,1)" font-size="9.29" font-weight="normal" fill="#111" stroke="#111" stroke-width="0.07">2</text>
<text transform="translate(604.83,737.17) scale(1.0297,1)" font-size="16.81" fill="#111" stroke="#111" stroke-width="0.13">)</text>
<polyline points="354.7,673.6 415.3,614.2 475.9,543.0 536.5,554.9 597.1,507.4" fill="none" stroke="#22e0e0" stroke-width="1.6"/>
<polyline points="415.3,673.6 475.9,667.7 536.5,673.6 597.1,661.7" fill="none" stroke="#f0f" stroke-width="1.6"/>
<rect x="411.6" y="610.5" width="7.4" height="7.4" fill="none" stroke="#22e0e0" stroke-width="1"/>
<line x1="411.60" y1="614.23" x2="419.00" y2="614.23" stroke="#22e0e0" stroke-width="1"/>
<line x1="415.30" y1="610.53" x2="415.30" y2="617.93" stroke="#22e0e0" stroke-width="1"/>
<rect x="472.2" y="539.3" width="7.4" height="7.4" fill="none" stroke="#22e0e0" stroke-width="1"/>
<line x1="472.20" y1="542.99" x2="479.60" y2="542.99" stroke="#22e0e0" stroke-width="1"/>
<line x1="475.90" y1="539.29" x2="475.90" y2="546.69" stroke="#22e0e0" stroke-width="1"/>
<rect x="532.8" y="551.2" width="7.4" height="7.4" fill="none" stroke="#22e0e0" stroke-width="1"/>
<line x1="532.80" y1="554.86" x2="540.20" y2="554.86" stroke="#22e0e0" stroke-width="1"/>
<line x1="536.50" y1="551.16" x2="536.50" y2="558.56" stroke="#22e0e0" stroke-width="1"/>
<rect x="593.4" y="503.7" width="7.4" height="7.4" fill="none" stroke="#22e0e0" stroke-width="1"/>
<line x1="593.40" y1="507.36" x2="600.80" y2="507.36" stroke="#22e0e0" stroke-width="1"/>
<line x1="597.10" y1="503.66" x2="597.10" y2="511.06" stroke="#22e0e0" stroke-width="1"/>
<polyline points="351.0,670.5 351.0,677.8 355.5,677.8" fill="none" stroke="#8ee8e8" stroke-width="0.9"/>
<circle cx="415.3" cy="673.6" r="4" fill="none" stroke="#f0f" stroke-width="1"/>
<line x1="411.30" y1="673.60" x2="419.30" y2="673.60" stroke="#f0f" stroke-width="1"/>
<line x1="415.30" y1="669.60" x2="415.30" y2="677.60" stroke="#f0f" stroke-width="1"/>
<circle cx="475.9" cy="667.7" r="4" fill="none" stroke="#f0f" stroke-width="1"/>
<line x1="471.90" y1="667.66" x2="479.90" y2="667.66" stroke="#f0f" stroke-width="1"/>
<line x1="475.90" y1="663.66" x2="475.90" y2="671.66" stroke="#f0f" stroke-width="1"/>
<circle cx="536.5" cy="673.6" r="4" fill="none" stroke="#f0f" stroke-width="1"/>
<line x1="532.50" y1="673.60" x2="540.50" y2="673.60" stroke="#f0f" stroke-width="1"/>
<line x1="536.50" y1="669.60" x2="536.50" y2="677.60" stroke="#f0f" stroke-width="1"/>
<circle cx="597.1" cy="661.7" r="4" fill="none" stroke="#f0f" stroke-width="1"/>
<line x1="593.10" y1="661.73" x2="601.10" y2="661.73" stroke="#f0f" stroke-width="1"/>
<line x1="597.10" y1="657.73" x2="597.10" y2="665.73" stroke="#f0f" stroke-width="1"/>
<line x1="341.40" y1="508.10" x2="378.00" y2="508.10" stroke="#22e0e0" stroke-width="1.6"/>
<rect x="356.3" y="504.4" width="7.4" height="7.4" fill="none" stroke="#22e0e0" stroke-width="1"/>
<line x1="356.30" y1="508.10" x2="363.70" y2="508.10" stroke="#22e0e0" stroke-width="1"/>
<line x1="360.00" y1="504.40" x2="360.00" y2="511.80" stroke="#22e0e0" stroke-width="1"/>
<line x1="341.40" y1="527.20" x2="378.00" y2="527.20" stroke="#f0f" stroke-width="1.6"/>
<circle cx="360.0" cy="527.2" r="4" fill="none" stroke="#f0f" stroke-width="1"/>
<line x1="356.00" y1="527.20" x2="364.00" y2="527.20" stroke="#f0f" stroke-width="1"/>
<line x1="360.00" y1="523.20" x2="360.00" y2="531.20" stroke="#f0f" stroke-width="1"/>
<text transform="translate(381.84,513.60) scale(0.9414,1)" font-size="16.67" font-weight="normal" fill="#111" stroke="#111" stroke-width="0.13">Micro disk w/o slit</text>
<text transform="translate(381.84,532.80) scale(0.9600,1)" font-size="16.38" font-weight="normal" fill="#111" stroke="#111" stroke-width="0.13">Micro disk with slit</text>
<text transform="translate(335.45,694.70) scale(1.0359,1)" font-size="28.08" font-weight="normal" fill="#000" stroke="#000" stroke-width="0.22">(d)</text>
</svg></body></html>
